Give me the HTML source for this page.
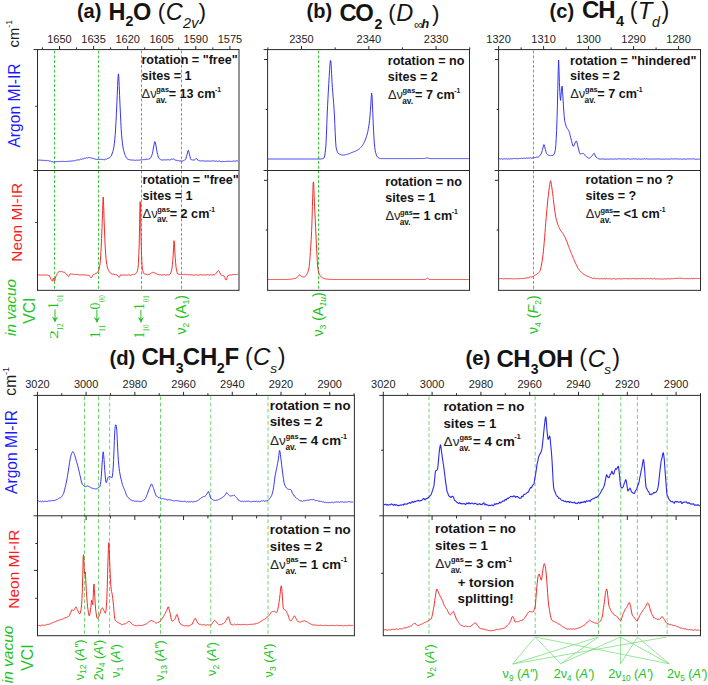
<!DOCTYPE html>
<html><head><meta charset="utf-8"><style>
html,body{margin:0;padding:0;background:#fff;}
svg{display:block;}
text{white-space:pre;}
</style></head><body>
<svg width="708" height="685" viewBox="0 0 708 685">
<rect width="708" height="685" fill="#fff"/>
<line x1="54.5" y1="50.6" x2="54.5" y2="289.35" stroke="#3ccc3c" stroke-width="1.0" stroke-dasharray="2.9 1.9"/>
<line x1="98.5" y1="50.6" x2="98.5" y2="289.35" stroke="#3ccc3c" stroke-width="1.0" stroke-dasharray="2.9 1.9"/>
<line x1="141.5" y1="50.6" x2="141.5" y2="289.35" stroke="#3ccc3c" stroke-width="1.0" stroke-dasharray="2.9 1.9"/>
<line x1="181.5" y1="50.6" x2="181.5" y2="289.35" stroke="#3ccc3c" stroke-width="1.0" stroke-dasharray="2.9 1.9"/>
<line x1="318.5" y1="50.6" x2="318.5" y2="289.35" stroke="#3ccc3c" stroke-width="1.0" stroke-dasharray="2.9 1.9"/>
<line x1="533.5" y1="50.6" x2="533.5" y2="289.35" stroke="#3ccc3c" stroke-width="1.0" stroke-dasharray="2.9 1.9"/>
<line x1="59.5" y1="46.0" x2="59.5" y2="49.6" stroke="#2b2b2b" stroke-width="1.0" />
<line x1="93.58" y1="46.0" x2="93.58" y2="49.6" stroke="#2b2b2b" stroke-width="1.0" />
<line x1="127.66" y1="46.0" x2="127.66" y2="49.6" stroke="#2b2b2b" stroke-width="1.0" />
<line x1="161.74" y1="46.0" x2="161.74" y2="49.6" stroke="#2b2b2b" stroke-width="1.0" />
<line x1="195.82" y1="46.0" x2="195.82" y2="49.6" stroke="#2b2b2b" stroke-width="1.0" />
<line x1="229.89999999999998" y1="46.0" x2="229.89999999999998" y2="49.6" stroke="#2b2b2b" stroke-width="1.0" />
<line x1="42.46" y1="47.4" x2="42.46" y2="49.6" stroke="#2b2b2b" stroke-width="1.0" />
<line x1="76.53999999999999" y1="47.4" x2="76.53999999999999" y2="49.6" stroke="#2b2b2b" stroke-width="1.0" />
<line x1="110.62" y1="47.4" x2="110.62" y2="49.6" stroke="#2b2b2b" stroke-width="1.0" />
<line x1="144.7" y1="47.4" x2="144.7" y2="49.6" stroke="#2b2b2b" stroke-width="1.0" />
<line x1="178.77999999999997" y1="47.4" x2="178.77999999999997" y2="49.6" stroke="#2b2b2b" stroke-width="1.0" />
<line x1="212.85999999999999" y1="47.4" x2="212.85999999999999" y2="49.6" stroke="#2b2b2b" stroke-width="1.0" />
<text x="59.5" y="42.6" font-size="11" font-weight="normal" font-style="normal" text-anchor="middle" fill="#1e1e1e" font-family="'Liberation Sans', sans-serif" >1650</text>
<text x="93.58" y="42.6" font-size="11" font-weight="normal" font-style="normal" text-anchor="middle" fill="#1e1e1e" font-family="'Liberation Sans', sans-serif" >1635</text>
<text x="127.66" y="42.6" font-size="11" font-weight="normal" font-style="normal" text-anchor="middle" fill="#1e1e1e" font-family="'Liberation Sans', sans-serif" >1620</text>
<text x="161.74" y="42.6" font-size="11" font-weight="normal" font-style="normal" text-anchor="middle" fill="#1e1e1e" font-family="'Liberation Sans', sans-serif" >1605</text>
<text x="195.82" y="42.6" font-size="11" font-weight="normal" font-style="normal" text-anchor="middle" fill="#1e1e1e" font-family="'Liberation Sans', sans-serif" >1590</text>
<text x="229.89999999999998" y="42.6" font-size="11" font-weight="normal" font-style="normal" text-anchor="middle" fill="#1e1e1e" font-family="'Liberation Sans', sans-serif" >1575</text>
<line x1="301.5" y1="46.0" x2="301.5" y2="49.6" stroke="#2b2b2b" stroke-width="1.0" />
<line x1="368.8" y1="46.0" x2="368.8" y2="49.6" stroke="#2b2b2b" stroke-width="1.0" />
<line x1="436.1" y1="46.0" x2="436.1" y2="49.6" stroke="#2b2b2b" stroke-width="1.0" />
<line x1="267.85" y1="47.4" x2="267.85" y2="49.6" stroke="#2b2b2b" stroke-width="1.0" />
<line x1="335.15" y1="47.4" x2="335.15" y2="49.6" stroke="#2b2b2b" stroke-width="1.0" />
<line x1="402.45" y1="47.4" x2="402.45" y2="49.6" stroke="#2b2b2b" stroke-width="1.0" />
<line x1="469.75" y1="47.4" x2="469.75" y2="49.6" stroke="#2b2b2b" stroke-width="1.0" />
<text x="301.5" y="42.6" font-size="11" font-weight="normal" font-style="normal" text-anchor="middle" fill="#1e1e1e" font-family="'Liberation Sans', sans-serif" >2350</text>
<text x="368.8" y="42.6" font-size="11" font-weight="normal" font-style="normal" text-anchor="middle" fill="#1e1e1e" font-family="'Liberation Sans', sans-serif" >2340</text>
<text x="436.1" y="42.6" font-size="11" font-weight="normal" font-style="normal" text-anchor="middle" fill="#1e1e1e" font-family="'Liberation Sans', sans-serif" >2330</text>
<line x1="498.6" y1="46.0" x2="498.6" y2="49.6" stroke="#2b2b2b" stroke-width="1.0" />
<line x1="543.6" y1="46.0" x2="543.6" y2="49.6" stroke="#2b2b2b" stroke-width="1.0" />
<line x1="588.6" y1="46.0" x2="588.6" y2="49.6" stroke="#2b2b2b" stroke-width="1.0" />
<line x1="633.6" y1="46.0" x2="633.6" y2="49.6" stroke="#2b2b2b" stroke-width="1.0" />
<line x1="678.6" y1="46.0" x2="678.6" y2="49.6" stroke="#2b2b2b" stroke-width="1.0" />
<line x1="521.1" y1="47.4" x2="521.1" y2="49.6" stroke="#2b2b2b" stroke-width="1.0" />
<line x1="566.1" y1="47.4" x2="566.1" y2="49.6" stroke="#2b2b2b" stroke-width="1.0" />
<line x1="611.1" y1="47.4" x2="611.1" y2="49.6" stroke="#2b2b2b" stroke-width="1.0" />
<line x1="656.1" y1="47.4" x2="656.1" y2="49.6" stroke="#2b2b2b" stroke-width="1.0" />
<text x="498.6" y="42.6" font-size="11" font-weight="normal" font-style="normal" text-anchor="middle" fill="#1e1e1e" font-family="'Liberation Sans', sans-serif" >1320</text>
<text x="543.6" y="42.6" font-size="11" font-weight="normal" font-style="normal" text-anchor="middle" fill="#1e1e1e" font-family="'Liberation Sans', sans-serif" >1310</text>
<text x="588.6" y="42.6" font-size="11" font-weight="normal" font-style="normal" text-anchor="middle" fill="#1e1e1e" font-family="'Liberation Sans', sans-serif" >1300</text>
<text x="633.6" y="42.6" font-size="11" font-weight="normal" font-style="normal" text-anchor="middle" fill="#1e1e1e" font-family="'Liberation Sans', sans-serif" >1290</text>
<text x="678.6" y="42.6" font-size="11" font-weight="normal" font-style="normal" text-anchor="middle" fill="#1e1e1e" font-family="'Liberation Sans', sans-serif" >1280</text>
<line x1="37.5" y1="49.6" x2="239.0" y2="49.6" stroke="#2b2b2b" stroke-width="1.0" />
<line x1="37.5" y1="170.5" x2="239.0" y2="170.5" stroke="#2b2b2b" stroke-width="1.0" />
<line x1="37.5" y1="290.35" x2="239.0" y2="290.35" stroke="#2b2b2b" stroke-width="1.0" />
<line x1="37.5" y1="49.1" x2="37.5" y2="290.85" stroke="#2b2b2b" stroke-width="1.0" />
<line x1="239.0" y1="49.1" x2="239.0" y2="290.85" stroke="#2b2b2b" stroke-width="1.0" />
<line x1="33.5" y1="49.6" x2="37.5" y2="49.6" stroke="#2b2b2b" stroke-width="1.0" />
<line x1="33.5" y1="170.5" x2="37.5" y2="170.5" stroke="#2b2b2b" stroke-width="1.0" />
<line x1="267.6" y1="49.6" x2="469.5" y2="49.6" stroke="#2b2b2b" stroke-width="1.0" />
<line x1="267.6" y1="170.5" x2="469.5" y2="170.5" stroke="#2b2b2b" stroke-width="1.0" />
<line x1="267.6" y1="290.35" x2="469.5" y2="290.35" stroke="#2b2b2b" stroke-width="1.0" />
<line x1="267.6" y1="49.1" x2="267.6" y2="290.85" stroke="#2b2b2b" stroke-width="1.0" />
<line x1="469.5" y1="49.1" x2="469.5" y2="290.85" stroke="#2b2b2b" stroke-width="1.0" />
<line x1="263.6" y1="49.6" x2="267.6" y2="49.6" stroke="#2b2b2b" stroke-width="1.0" />
<line x1="263.6" y1="170.5" x2="267.6" y2="170.5" stroke="#2b2b2b" stroke-width="1.0" />
<line x1="498.6" y1="49.6" x2="700.5" y2="49.6" stroke="#2b2b2b" stroke-width="1.0" />
<line x1="498.6" y1="170.5" x2="700.5" y2="170.5" stroke="#2b2b2b" stroke-width="1.0" />
<line x1="498.6" y1="290.35" x2="700.5" y2="290.35" stroke="#2b2b2b" stroke-width="1.0" />
<line x1="498.6" y1="49.1" x2="498.6" y2="290.85" stroke="#2b2b2b" stroke-width="1.0" />
<line x1="700.5" y1="49.1" x2="700.5" y2="290.85" stroke="#2b2b2b" stroke-width="1.0" />
<line x1="494.6" y1="49.6" x2="498.6" y2="49.6" stroke="#2b2b2b" stroke-width="1.0" />
<line x1="494.6" y1="170.5" x2="498.6" y2="170.5" stroke="#2b2b2b" stroke-width="1.0" />
<line x1="35.3" y1="106.3" x2="37.5" y2="106.3" stroke="#2b2b2b" stroke-width="1.0" />
<line x1="35.3" y1="222.5" x2="37.5" y2="222.5" stroke="#2b2b2b" stroke-width="1.0" />
<line x1="264.0" y1="59.5" x2="267.6" y2="59.5" stroke="#2b2b2b" stroke-width="1.0" />
<line x1="265.6" y1="109.5" x2="267.6" y2="109.5" stroke="#2b2b2b" stroke-width="1.0" />
<line x1="264.0" y1="180.3" x2="267.6" y2="180.3" stroke="#2b2b2b" stroke-width="1.0" />
<line x1="265.6" y1="230.0" x2="267.6" y2="230.0" stroke="#2b2b2b" stroke-width="1.0" />
<line x1="495.0" y1="59.5" x2="498.6" y2="59.5" stroke="#2b2b2b" stroke-width="1.0" />
<line x1="496.6" y1="109.5" x2="498.6" y2="109.5" stroke="#2b2b2b" stroke-width="1.0" />
<line x1="495.0" y1="180.3" x2="498.6" y2="180.3" stroke="#2b2b2b" stroke-width="1.0" />
<line x1="496.6" y1="230.0" x2="498.6" y2="230.0" stroke="#2b2b2b" stroke-width="1.0" />
<line x1="84.5" y1="396.4" x2="84.5" y2="635.7" stroke="#6fd66f" stroke-width="1.0" stroke-dasharray="3.8 2.35"/>
<line x1="98.5" y1="396.4" x2="98.5" y2="635.7" stroke="#6fd66f" stroke-width="1.0" stroke-dasharray="3.8 2.35"/>
<line x1="109.6" y1="396.4" x2="109.6" y2="635.7" stroke="#6fd66f" stroke-width="1.0" stroke-dasharray="3.8 2.35"/>
<line x1="160.5" y1="396.4" x2="160.5" y2="635.7" stroke="#6fd66f" stroke-width="1.0" stroke-dasharray="3.8 2.35"/>
<line x1="210.8" y1="396.4" x2="210.8" y2="635.7" stroke="#6fd66f" stroke-width="1.0" stroke-dasharray="3.8 2.35"/>
<line x1="268.0" y1="396.4" x2="268.0" y2="635.7" stroke="#6fd66f" stroke-width="1.0" stroke-dasharray="3.8 2.35"/>
<line x1="429.0" y1="396.4" x2="429.0" y2="635.7" stroke="#6fd66f" stroke-width="1.0" stroke-dasharray="3.8 2.35"/>
<line x1="535.2" y1="396.4" x2="535.2" y2="635.7" stroke="#6fd66f" stroke-width="1.0" stroke-dasharray="3.8 2.35"/>
<line x1="598.5" y1="396.4" x2="598.5" y2="635.7" stroke="#6fd66f" stroke-width="1.0" stroke-dasharray="3.8 2.35"/>
<line x1="620.8" y1="396.4" x2="620.8" y2="635.7" stroke="#6fd66f" stroke-width="1.0" stroke-dasharray="3.8 2.35"/>
<line x1="637.4" y1="396.4" x2="637.4" y2="635.7" stroke="#6fd66f" stroke-width="1.0" stroke-dasharray="3.8 2.35"/>
<line x1="667.1" y1="396.4" x2="667.1" y2="635.7" stroke="#6fd66f" stroke-width="1.0" stroke-dasharray="3.8 2.35"/>
<line x1="37.4" y1="391.79999999999995" x2="37.4" y2="395.4" stroke="#2b2b2b" stroke-width="1.0" />
<line x1="86.12" y1="391.79999999999995" x2="86.12" y2="395.4" stroke="#2b2b2b" stroke-width="1.0" />
<line x1="134.84" y1="391.79999999999995" x2="134.84" y2="395.4" stroke="#2b2b2b" stroke-width="1.0" />
<line x1="183.56" y1="391.79999999999995" x2="183.56" y2="395.4" stroke="#2b2b2b" stroke-width="1.0" />
<line x1="232.28" y1="391.79999999999995" x2="232.28" y2="395.4" stroke="#2b2b2b" stroke-width="1.0" />
<line x1="281.0" y1="391.79999999999995" x2="281.0" y2="395.4" stroke="#2b2b2b" stroke-width="1.0" />
<line x1="329.71999999999997" y1="391.79999999999995" x2="329.71999999999997" y2="395.4" stroke="#2b2b2b" stroke-width="1.0" />
<line x1="61.76" y1="393.2" x2="61.76" y2="395.4" stroke="#2b2b2b" stroke-width="1.0" />
<line x1="110.47999999999999" y1="393.2" x2="110.47999999999999" y2="395.4" stroke="#2b2b2b" stroke-width="1.0" />
<line x1="159.2" y1="393.2" x2="159.2" y2="395.4" stroke="#2b2b2b" stroke-width="1.0" />
<line x1="207.92" y1="393.2" x2="207.92" y2="395.4" stroke="#2b2b2b" stroke-width="1.0" />
<line x1="256.64" y1="393.2" x2="256.64" y2="395.4" stroke="#2b2b2b" stroke-width="1.0" />
<line x1="305.35999999999996" y1="393.2" x2="305.35999999999996" y2="395.4" stroke="#2b2b2b" stroke-width="1.0" />
<line x1="354.08" y1="393.2" x2="354.08" y2="395.4" stroke="#2b2b2b" stroke-width="1.0" />
<line x1="86.12" y1="515.8" x2="86.12" y2="520.0" stroke="#2b2b2b" stroke-width="1.0" />
<line x1="134.84" y1="515.8" x2="134.84" y2="520.0" stroke="#2b2b2b" stroke-width="1.0" />
<line x1="183.56" y1="515.8" x2="183.56" y2="520.0" stroke="#2b2b2b" stroke-width="1.0" />
<line x1="232.28" y1="515.8" x2="232.28" y2="520.0" stroke="#2b2b2b" stroke-width="1.0" />
<line x1="281.0" y1="515.8" x2="281.0" y2="520.0" stroke="#2b2b2b" stroke-width="1.0" />
<line x1="329.71999999999997" y1="515.8" x2="329.71999999999997" y2="520.0" stroke="#2b2b2b" stroke-width="1.0" />
<line x1="61.76" y1="515.8" x2="61.76" y2="518.4" stroke="#2b2b2b" stroke-width="1.0" />
<line x1="110.47999999999999" y1="515.8" x2="110.47999999999999" y2="518.4" stroke="#2b2b2b" stroke-width="1.0" />
<line x1="159.2" y1="515.8" x2="159.2" y2="518.4" stroke="#2b2b2b" stroke-width="1.0" />
<line x1="207.92" y1="515.8" x2="207.92" y2="518.4" stroke="#2b2b2b" stroke-width="1.0" />
<line x1="256.64" y1="515.8" x2="256.64" y2="518.4" stroke="#2b2b2b" stroke-width="1.0" />
<line x1="305.35999999999996" y1="515.8" x2="305.35999999999996" y2="518.4" stroke="#2b2b2b" stroke-width="1.0" />
<text x="37.4" y="387.7" font-size="11" font-weight="normal" font-style="normal" text-anchor="middle" fill="#1e1e1e" font-family="'Liberation Sans', sans-serif" >3020</text>
<text x="86.12" y="387.7" font-size="11" font-weight="normal" font-style="normal" text-anchor="middle" fill="#1e1e1e" font-family="'Liberation Sans', sans-serif" >3000</text>
<text x="134.84" y="387.7" font-size="11" font-weight="normal" font-style="normal" text-anchor="middle" fill="#1e1e1e" font-family="'Liberation Sans', sans-serif" >2980</text>
<text x="183.56" y="387.7" font-size="11" font-weight="normal" font-style="normal" text-anchor="middle" fill="#1e1e1e" font-family="'Liberation Sans', sans-serif" >2960</text>
<text x="232.28" y="387.7" font-size="11" font-weight="normal" font-style="normal" text-anchor="middle" fill="#1e1e1e" font-family="'Liberation Sans', sans-serif" >2940</text>
<text x="281.0" y="387.7" font-size="11" font-weight="normal" font-style="normal" text-anchor="middle" fill="#1e1e1e" font-family="'Liberation Sans', sans-serif" >2920</text>
<text x="329.71999999999997" y="387.7" font-size="11" font-weight="normal" font-style="normal" text-anchor="middle" fill="#1e1e1e" font-family="'Liberation Sans', sans-serif" >2900</text>
<line x1="383.3" y1="391.79999999999995" x2="383.3" y2="395.4" stroke="#2b2b2b" stroke-width="1.0" />
<line x1="432.1" y1="391.79999999999995" x2="432.1" y2="395.4" stroke="#2b2b2b" stroke-width="1.0" />
<line x1="480.9" y1="391.79999999999995" x2="480.9" y2="395.4" stroke="#2b2b2b" stroke-width="1.0" />
<line x1="529.7" y1="391.79999999999995" x2="529.7" y2="395.4" stroke="#2b2b2b" stroke-width="1.0" />
<line x1="578.5" y1="391.79999999999995" x2="578.5" y2="395.4" stroke="#2b2b2b" stroke-width="1.0" />
<line x1="627.3" y1="391.79999999999995" x2="627.3" y2="395.4" stroke="#2b2b2b" stroke-width="1.0" />
<line x1="676.1" y1="391.79999999999995" x2="676.1" y2="395.4" stroke="#2b2b2b" stroke-width="1.0" />
<line x1="407.7" y1="393.2" x2="407.7" y2="395.4" stroke="#2b2b2b" stroke-width="1.0" />
<line x1="456.5" y1="393.2" x2="456.5" y2="395.4" stroke="#2b2b2b" stroke-width="1.0" />
<line x1="505.3" y1="393.2" x2="505.3" y2="395.4" stroke="#2b2b2b" stroke-width="1.0" />
<line x1="554.1" y1="393.2" x2="554.1" y2="395.4" stroke="#2b2b2b" stroke-width="1.0" />
<line x1="602.9" y1="393.2" x2="602.9" y2="395.4" stroke="#2b2b2b" stroke-width="1.0" />
<line x1="651.7" y1="393.2" x2="651.7" y2="395.4" stroke="#2b2b2b" stroke-width="1.0" />
<line x1="700.5" y1="393.2" x2="700.5" y2="395.4" stroke="#2b2b2b" stroke-width="1.0" />
<line x1="432.1" y1="515.8" x2="432.1" y2="520.0" stroke="#2b2b2b" stroke-width="1.0" />
<line x1="480.9" y1="515.8" x2="480.9" y2="520.0" stroke="#2b2b2b" stroke-width="1.0" />
<line x1="529.7" y1="515.8" x2="529.7" y2="520.0" stroke="#2b2b2b" stroke-width="1.0" />
<line x1="578.5" y1="515.8" x2="578.5" y2="520.0" stroke="#2b2b2b" stroke-width="1.0" />
<line x1="627.3" y1="515.8" x2="627.3" y2="520.0" stroke="#2b2b2b" stroke-width="1.0" />
<line x1="676.1" y1="515.8" x2="676.1" y2="520.0" stroke="#2b2b2b" stroke-width="1.0" />
<line x1="407.7" y1="515.8" x2="407.7" y2="518.4" stroke="#2b2b2b" stroke-width="1.0" />
<line x1="456.5" y1="515.8" x2="456.5" y2="518.4" stroke="#2b2b2b" stroke-width="1.0" />
<line x1="505.3" y1="515.8" x2="505.3" y2="518.4" stroke="#2b2b2b" stroke-width="1.0" />
<line x1="554.1" y1="515.8" x2="554.1" y2="518.4" stroke="#2b2b2b" stroke-width="1.0" />
<line x1="602.9" y1="515.8" x2="602.9" y2="518.4" stroke="#2b2b2b" stroke-width="1.0" />
<line x1="651.7" y1="515.8" x2="651.7" y2="518.4" stroke="#2b2b2b" stroke-width="1.0" />
<text x="383.3" y="387.7" font-size="11" font-weight="normal" font-style="normal" text-anchor="middle" fill="#1e1e1e" font-family="'Liberation Sans', sans-serif" >3020</text>
<text x="432.1" y="387.7" font-size="11" font-weight="normal" font-style="normal" text-anchor="middle" fill="#1e1e1e" font-family="'Liberation Sans', sans-serif" >3000</text>
<text x="480.9" y="387.7" font-size="11" font-weight="normal" font-style="normal" text-anchor="middle" fill="#1e1e1e" font-family="'Liberation Sans', sans-serif" >2980</text>
<text x="529.7" y="387.7" font-size="11" font-weight="normal" font-style="normal" text-anchor="middle" fill="#1e1e1e" font-family="'Liberation Sans', sans-serif" >2960</text>
<text x="578.5" y="387.7" font-size="11" font-weight="normal" font-style="normal" text-anchor="middle" fill="#1e1e1e" font-family="'Liberation Sans', sans-serif" >2940</text>
<text x="627.3" y="387.7" font-size="11" font-weight="normal" font-style="normal" text-anchor="middle" fill="#1e1e1e" font-family="'Liberation Sans', sans-serif" >2920</text>
<text x="676.1" y="387.7" font-size="11" font-weight="normal" font-style="normal" text-anchor="middle" fill="#1e1e1e" font-family="'Liberation Sans', sans-serif" >2900</text>
<line x1="37.5" y1="395.4" x2="354.4" y2="395.4" stroke="#2b2b2b" stroke-width="1.0" />
<line x1="37.5" y1="515.8" x2="354.4" y2="515.8" stroke="#2b2b2b" stroke-width="1.0" />
<line x1="37.5" y1="635.7" x2="354.4" y2="635.7" stroke="#2b2b2b" stroke-width="1.0" />
<line x1="37.5" y1="394.9" x2="37.5" y2="636.2" stroke="#2b2b2b" stroke-width="1.0" />
<line x1="354.4" y1="394.9" x2="354.4" y2="636.2" stroke="#2b2b2b" stroke-width="1.0" />
<line x1="33.5" y1="395.4" x2="37.5" y2="395.4" stroke="#2b2b2b" stroke-width="1.0" />
<line x1="33.5" y1="515.8" x2="37.5" y2="515.8" stroke="#2b2b2b" stroke-width="1.0" />
<line x1="383.3" y1="395.4" x2="700.5" y2="395.4" stroke="#2b2b2b" stroke-width="1.0" />
<line x1="383.3" y1="515.8" x2="700.5" y2="515.8" stroke="#2b2b2b" stroke-width="1.0" />
<line x1="383.3" y1="635.7" x2="700.5" y2="635.7" stroke="#2b2b2b" stroke-width="1.0" />
<line x1="383.3" y1="394.9" x2="383.3" y2="636.2" stroke="#2b2b2b" stroke-width="1.0" />
<line x1="700.5" y1="394.9" x2="700.5" y2="636.2" stroke="#2b2b2b" stroke-width="1.0" />
<line x1="379.3" y1="395.4" x2="383.3" y2="395.4" stroke="#2b2b2b" stroke-width="1.0" />
<line x1="379.3" y1="515.8" x2="383.3" y2="515.8" stroke="#2b2b2b" stroke-width="1.0" />
<line x1="35.3" y1="449.5" x2="37.5" y2="449.5" stroke="#2b2b2b" stroke-width="1.0" />
<line x1="35.3" y1="543.5" x2="37.5" y2="543.5" stroke="#2b2b2b" stroke-width="1.0" />
<line x1="33.9" y1="570.4" x2="37.5" y2="570.4" stroke="#2b2b2b" stroke-width="1.0" />
<line x1="35.3" y1="598.3" x2="37.5" y2="598.3" stroke="#2b2b2b" stroke-width="1.0" />
<line x1="381.1" y1="450.2" x2="383.3" y2="450.2" stroke="#2b2b2b" stroke-width="1.0" />
<line x1="381.1" y1="573.3" x2="383.3" y2="573.3" stroke="#2b2b2b" stroke-width="1.0" />
<path d="M38.00,160.09 L38.40,160.17 L38.80,160.06 L39.20,159.98 L39.60,160.15 L40.00,160.20 L40.40,160.14 L40.80,160.24 L41.20,160.30 L41.60,160.29 L42.00,160.32 L42.40,160.32 L42.80,160.25 L43.20,160.26 L43.60,160.35 L44.00,160.46 L44.40,160.47 L44.80,160.40 L45.20,160.38 L45.60,160.47 L46.00,160.55 L46.40,160.66 L46.80,160.85 L47.20,160.72 L47.60,160.32 L48.00,160.34 L48.40,160.63 L48.80,160.79 L49.20,160.90 L49.60,161.12 L50.00,161.21 L50.40,161.05 L50.80,161.21 L51.20,161.61 L51.60,161.74 L52.00,161.73 L52.40,161.66 L52.80,161.67 L53.20,161.90 L53.60,161.95 L54.00,161.80 L54.40,161.79 L54.80,161.80 L55.20,161.72 L55.60,161.72 L56.00,161.72 L56.40,161.63 L56.80,161.57 L57.20,161.64 L57.60,161.68 L58.00,161.54 L58.40,161.46 L58.80,161.51 L59.20,161.54 L59.60,161.51 L60.00,161.48 L60.40,161.55 L60.80,161.48 L61.20,161.32 L61.60,161.39 L62.00,161.50 L62.40,161.48 L62.80,161.33 L63.20,161.31 L63.60,161.43 L64.00,161.47 L64.40,161.55 L64.80,161.51 L65.20,161.36 L65.60,161.50 L66.00,161.64 L66.40,161.46 L66.80,161.38 L67.20,161.49 L67.60,161.54 L68.00,161.48 L68.40,161.27 L68.80,161.10 L69.20,161.15 L69.60,161.23 L70.00,161.28 L70.40,161.13 L70.80,160.86 L71.20,160.89 L71.60,161.12 L72.00,161.10 L72.40,160.92 L72.80,160.89 L73.20,160.93 L73.60,160.93 L74.00,160.88 L74.40,160.73 L74.80,160.56 L75.20,160.53 L75.60,160.39 L76.00,160.11 L76.40,160.10 L76.80,160.07 L77.20,159.93 L77.60,159.91 L78.00,159.90 L78.40,159.88 L78.80,159.82 L79.20,159.81 L79.60,159.80 L80.00,159.57 L80.40,159.24 L80.80,159.20 L81.20,159.37 L81.60,159.21 L82.00,158.98 L82.40,158.92 L82.80,158.90 L83.20,158.86 L83.60,158.72 L84.00,158.52 L84.40,158.40 L84.80,158.31 L85.20,158.21 L85.60,158.30 L86.00,158.24 L86.40,157.77 L86.80,157.59 L87.20,157.97 L87.60,158.12 L88.00,157.74 L88.40,157.56 L88.80,157.66 L89.20,157.60 L89.60,157.56 L90.00,157.69 L90.40,157.82 L90.80,157.89 L91.20,157.99 L91.60,158.06 L92.00,158.10 L92.40,158.20 L92.80,158.32 L93.20,158.41 L93.60,158.43 L94.00,158.61 L94.40,158.94 L94.80,159.01 L95.20,159.05 L95.60,159.16 L96.00,159.18 L96.40,159.27 L96.80,159.42 L97.20,159.42 L97.60,159.39 L98.00,159.49 L98.40,159.41 L98.80,159.27 L99.20,159.30 L99.60,159.50 L100.00,159.61 L100.40,159.46 L100.80,159.31 L101.20,159.24 L101.60,159.42 L102.00,159.60 L102.40,159.49 L102.80,159.42 L103.20,159.53 L103.60,159.64 L104.00,159.75 L104.40,159.79 L104.80,159.56 L105.20,159.31 L105.60,159.24 L106.00,159.19 L106.40,159.09 L106.80,158.96 L107.20,158.72 L107.60,158.51 L108.00,158.46 L108.40,158.23 L108.80,157.95 L109.20,157.91 L109.60,157.74 L110.00,157.29 L110.40,156.71 L110.80,156.33 L111.20,156.08 L111.60,155.24 L112.00,154.01 L112.40,152.93 L112.80,151.70 L113.20,150.21 L113.60,148.49 L114.00,146.14 L114.40,143.16 L114.80,139.28 L115.20,134.72 L115.60,128.96 L116.00,121.46 L116.40,113.21 L116.80,105.12 L117.20,95.79 L117.60,85.48 L118.00,77.36 L118.40,73.90 L118.80,77.08 L119.20,85.40 L119.60,95.72 L120.00,104.88 L120.40,113.12 L120.80,121.68 L121.20,129.20 L121.60,134.93 L122.00,139.24 L122.40,142.86 L122.80,145.94 L123.20,148.45 L123.60,150.29 L124.00,151.76 L124.40,153.13 L124.80,154.35 L125.20,155.36 L125.60,156.23 L126.00,157.01 L126.40,157.74 L126.80,158.32 L127.20,158.80 L127.60,159.16 L128.00,159.31 L128.40,159.44 L128.80,159.60 L129.20,159.61 L129.60,159.70 L130.00,159.93 L130.40,160.02 L130.80,159.88 L131.20,159.83 L131.60,160.07 L132.00,160.14 L132.40,160.09 L132.80,160.19 L133.20,160.14 L133.60,160.09 L134.00,160.22 L134.40,160.29 L134.80,160.21 L135.20,160.22 L135.60,160.38 L136.00,160.23 L136.40,160.08 L136.80,160.22 L137.20,160.26 L137.60,160.22 L138.00,160.17 L138.40,160.16 L138.80,160.13 L139.20,160.09 L139.60,160.11 L140.00,160.00 L140.40,159.91 L140.80,160.00 L141.20,160.03 L141.60,159.90 L142.00,159.84 L142.40,159.81 L142.80,159.62 L143.20,159.59 L143.60,159.64 L144.00,159.58 L144.40,159.62 L144.80,159.71 L145.20,159.66 L145.60,159.46 L146.00,159.39 L146.40,159.29 L146.80,159.29 L147.20,159.51 L147.60,159.31 L148.00,159.08 L148.40,159.13 L148.80,158.90 L149.20,158.64 L149.60,158.70 L150.00,158.62 L150.40,158.16 L150.80,157.59 L151.20,156.84 L151.60,155.87 L152.00,154.88 L152.40,153.68 L152.80,151.63 L153.20,149.17 L153.60,146.85 L154.00,144.91 L154.40,142.89 L154.80,141.60 L155.20,142.08 L155.60,143.95 L156.00,145.99 L156.40,148.07 L156.80,150.59 L157.20,152.90 L157.60,154.42 L158.00,155.83 L158.40,157.22 L158.80,158.14 L159.20,158.54 L159.60,158.87 L160.00,159.22 L160.40,159.53 L160.80,159.66 L161.20,159.80 L161.60,159.94 L162.00,160.02 L162.40,160.09 L162.80,159.96 L163.20,159.84 L163.60,159.90 L164.00,159.87 L164.40,159.81 L164.80,159.79 L165.20,159.86 L165.60,160.04 L166.00,160.00 L166.40,159.81 L166.80,159.76 L167.20,159.81 L167.60,159.80 L168.00,159.70 L168.40,159.69 L168.80,159.75 L169.20,159.83 L169.60,159.98 L170.00,160.00 L170.40,159.84 L170.80,159.60 L171.20,159.38 L171.60,159.31 L172.00,159.24 L172.40,159.22 L172.80,159.09 L173.20,158.88 L173.60,159.04 L174.00,159.38 L174.40,159.65 L174.80,159.78 L175.20,159.92 L175.60,160.18 L176.00,160.33 L176.40,160.32 L176.80,160.28 L177.20,160.42 L177.60,160.64 L178.00,160.58 L178.40,160.54 L178.80,160.78 L179.20,160.97 L179.60,160.97 L180.00,160.97 L180.40,160.95 L180.80,160.92 L181.20,160.96 L181.60,161.01 L182.00,161.12 L182.40,161.10 L182.80,160.87 L183.20,160.73 L183.60,160.70 L184.00,160.61 L184.40,160.26 L184.80,159.82 L185.20,159.61 L185.60,159.33 L186.00,158.30 L186.40,156.68 L186.80,155.28 L187.20,154.05 L187.60,152.18 L188.00,150.50 L188.40,150.31 L188.80,151.53 L189.20,153.22 L189.60,154.79 L190.00,156.64 L190.40,158.36 L190.80,159.44 L191.20,159.63 L191.60,159.62 L192.00,159.70 L192.40,159.91 L192.80,160.10 L193.20,160.06 L193.60,159.98 L194.00,160.09 L194.40,160.04 L194.80,159.68 L195.20,159.29 L195.60,158.85 L196.00,158.49 L196.40,158.46 L196.80,158.59 L197.20,159.22 L197.60,160.02 L198.00,160.34 L198.40,160.38 L198.80,160.66 L199.20,160.80 L199.60,160.69 L200.00,160.80 L200.40,160.99 L200.80,161.03 L201.20,160.99 L201.60,160.71 L202.00,160.63 L202.40,160.83 L202.80,160.84 L203.20,160.79 L203.60,160.88 L204.00,161.11 L204.40,161.13 L204.80,161.02 L205.20,161.08 L205.60,161.06 L206.00,160.99 L206.40,160.99 L206.80,161.02 L207.20,161.08 L207.60,161.06 L208.00,161.04 L208.40,161.07 L208.80,161.00 L209.20,161.02 L209.60,161.16 L210.00,161.18 L210.40,161.14 L210.80,161.20 L211.20,161.12 L211.60,160.94 L212.00,160.94 L212.40,161.03 L212.80,160.97 L213.20,160.79 L213.60,160.76 L214.00,160.82 L214.40,160.95 L214.80,161.18 L215.20,161.29 L215.60,161.22 L216.00,161.09 L216.40,161.00 L216.80,161.08 L217.20,161.31 L217.60,161.46 L218.00,161.34 L218.40,161.16 L218.80,161.12 L219.20,161.08 L219.60,161.08 L220.00,161.19 L220.40,161.41 L220.80,161.55 L221.20,161.54 L221.60,161.65 L222.00,161.70 L222.40,161.64 L222.80,161.69 L223.20,161.62 L223.60,161.48 L224.00,161.49 L224.40,161.50 L224.80,161.46 L225.20,161.47 L225.60,161.52 L226.00,161.48 L226.40,161.37 L226.80,161.27 L227.20,161.22 L227.60,161.34 L228.00,161.44 L228.40,161.38 L228.80,161.35 L229.20,161.29 L229.60,161.16 L230.00,161.16 L230.40,161.30 L230.80,161.35 L231.20,161.43 L231.60,161.48 L232.00,161.34 L232.40,161.31 L232.80,161.32 L233.20,161.10 L233.60,160.89 L234.00,160.88 L234.40,161.07 L234.80,161.21 L235.20,161.15 L235.60,161.04 L236.00,161.02 L236.40,160.93 L236.80,160.79 L237.20,160.90 L237.60,160.93 L238.00,160.83" fill="none" stroke="#2a2af0" stroke-width="0.95" stroke-linejoin="round"/>
<path d="M38.00,274.99 L38.40,274.92 L38.80,274.76 L39.20,274.78 L39.60,275.14 L40.00,275.24 L40.40,275.08 L40.80,275.09 L41.20,275.05 L41.60,275.01 L42.00,275.07 L42.40,275.00 L42.80,274.89 L43.20,274.91 L43.60,275.00 L44.00,275.05 L44.40,275.02 L44.80,274.97 L45.20,274.92 L45.60,274.96 L46.00,275.09 L46.40,275.16 L46.80,275.18 L47.20,275.16 L47.60,275.15 L48.00,275.44 L48.40,275.56 L48.80,275.27 L49.20,275.20 L49.60,275.89 L50.00,276.94 L50.40,277.95 L50.80,278.84 L51.20,279.51 L51.60,280.18 L52.00,280.77 L52.40,281.05 L52.80,280.13 L53.20,278.43 L53.60,277.98 L54.00,279.62 L54.40,281.11 L54.80,280.52 L55.20,278.87 L55.60,277.22 L56.00,276.07 L56.40,275.34 L56.80,274.51 L57.20,273.68 L57.60,273.20 L58.00,272.64 L58.40,271.93 L58.80,271.65 L59.20,271.53 L59.60,271.37 L60.00,271.48 L60.40,271.62 L60.80,271.48 L61.20,271.34 L61.60,271.45 L62.00,271.68 L62.40,271.80 L62.80,271.89 L63.20,272.08 L63.60,272.22 L64.00,272.19 L64.40,272.15 L64.80,272.43 L65.20,272.98 L65.60,273.41 L66.00,273.69 L66.40,273.95 L66.80,274.43 L67.20,275.15 L67.60,275.70 L68.00,276.03 L68.40,276.41 L68.80,276.43 L69.20,275.56 L69.60,274.50 L70.00,273.95 L70.40,273.96 L70.80,274.09 L71.20,274.05 L71.60,273.99 L72.00,274.02 L72.40,274.08 L72.80,274.28 L73.20,274.40 L73.60,274.41 L74.00,274.49 L74.40,274.46 L74.80,274.41 L75.20,274.40 L75.60,274.46 L76.00,274.53 L76.40,274.49 L76.80,274.45 L77.20,274.45 L77.60,274.40 L78.00,274.40 L78.40,274.57 L78.80,274.79 L79.20,274.89 L79.60,275.02 L80.00,275.11 L80.40,274.92 L80.80,274.85 L81.20,274.93 L81.60,274.85 L82.00,274.82 L82.40,274.81 L82.80,274.72 L83.20,274.72 L83.60,274.89 L84.00,274.91 L84.40,274.93 L84.80,275.18 L85.20,275.22 L85.60,275.05 L86.00,274.98 L86.40,275.05 L86.80,275.17 L87.20,275.32 L87.60,275.35 L88.00,275.23 L88.40,275.23 L88.80,275.27 L89.20,275.35 L89.60,275.78 L90.00,276.46 L90.40,277.17 L90.80,277.61 L91.20,277.70 L91.60,277.50 L92.00,276.95 L92.40,276.20 L92.80,275.38 L93.20,274.85 L93.60,274.47 L94.00,274.26 L94.40,274.19 L94.80,274.08 L95.20,273.85 L95.60,273.61 L96.00,273.43 L96.40,273.27 L96.80,273.09 L97.20,272.77 L97.60,272.27 L98.00,271.68 L98.40,271.08 L98.80,270.17 L99.20,268.64 L99.60,266.59 L100.00,263.98 L100.40,259.99 L100.80,254.11 L101.20,246.98 L101.60,238.39 L102.00,227.70 L102.40,217.03 L102.80,204.01 L103.20,196.97 L103.60,204.17 L104.00,217.23 L104.40,228.02 L104.80,238.77 L105.20,246.88 L105.60,253.15 L106.00,258.32 L106.40,262.00 L106.80,264.40 L107.20,266.40 L107.60,268.19 L108.00,269.38 L108.40,270.11 L108.80,270.80 L109.20,271.50 L109.60,272.22 L110.00,272.68 L110.40,272.84 L110.80,273.15 L111.20,273.55 L111.60,273.90 L112.00,274.22 L112.40,274.29 L112.80,274.27 L113.20,274.23 L113.60,274.17 L114.00,274.39 L114.40,274.59 L114.80,274.51 L115.20,274.51 L115.60,274.78 L116.00,275.00 L116.40,274.89 L116.80,274.89 L117.20,275.12 L117.60,275.47 L118.00,276.10 L118.40,276.79 L118.80,277.17 L119.20,277.17 L119.60,276.86 L120.00,276.11 L120.40,275.15 L120.80,274.69 L121.20,274.92 L121.60,275.15 L122.00,275.10 L122.40,275.00 L122.80,275.02 L123.20,275.10 L123.60,275.11 L124.00,275.00 L124.40,274.97 L124.80,275.17 L125.20,275.16 L125.60,275.07 L126.00,275.25 L126.40,275.20 L126.80,274.87 L127.20,274.77 L127.60,275.00 L128.00,275.07 L128.40,274.85 L128.80,274.81 L129.20,274.99 L129.60,274.97 L130.00,275.08 L130.40,275.45 L130.80,275.48 L131.20,275.17 L131.60,274.95 L132.00,274.77 L132.40,274.56 L132.80,274.56 L133.20,274.49 L133.60,274.28 L134.00,274.25 L134.40,274.37 L134.80,274.30 L135.20,274.13 L135.60,273.86 L136.00,273.35 L136.40,272.79 L136.80,272.23 L137.20,271.45 L137.60,270.11 L138.00,268.07 L138.40,263.45 L138.80,255.22 L139.20,244.82 L139.60,224.17 L140.00,201.65 L140.40,201.89 L140.80,224.32 L141.20,244.91 L141.60,255.90 L142.00,264.38 L142.40,268.47 L142.80,270.69 L143.20,272.31 L143.60,273.36 L144.00,273.82 L144.40,273.90 L144.80,273.90 L145.20,273.93 L145.60,274.07 L146.00,274.22 L146.40,274.35 L146.80,274.55 L147.20,274.73 L147.60,274.68 L148.00,274.56 L148.40,274.50 L148.80,274.44 L149.20,274.44 L149.60,274.18 L150.00,273.83 L150.40,273.77 L150.80,273.48 L151.20,272.96 L151.60,272.79 L152.00,272.67 L152.40,272.40 L152.80,272.30 L153.20,272.38 L153.60,272.52 L154.00,272.78 L154.40,272.98 L154.80,273.02 L155.20,273.18 L155.60,273.40 L156.00,273.52 L156.40,273.57 L156.80,273.69 L157.20,274.09 L157.60,274.56 L158.00,274.78 L158.40,274.76 L158.80,274.65 L159.20,274.67 L159.60,274.91 L160.00,274.96 L160.40,274.79 L160.80,274.71 L161.20,274.81 L161.60,275.02 L162.00,275.04 L162.40,274.96 L162.80,275.02 L163.20,275.02 L163.60,274.88 L164.00,274.73 L164.40,274.65 L164.80,274.73 L165.20,275.09 L165.60,275.19 L166.00,274.92 L166.40,274.90 L166.80,274.94 L167.20,274.83 L167.60,274.78 L168.00,274.79 L168.40,274.83 L168.80,274.73 L169.20,274.68 L169.60,274.65 L170.00,274.38 L170.40,273.82 L170.80,273.02 L171.20,271.81 L171.60,270.05 L172.00,267.96 L172.40,264.76 L172.80,260.25 L173.20,255.10 L173.60,247.32 L174.00,240.71 L174.40,243.11 L174.80,251.27 L175.20,257.46 L175.60,262.73 L176.00,266.80 L176.40,269.19 L176.80,271.16 L177.20,272.80 L177.60,273.79 L178.00,274.05 L178.40,274.16 L178.80,274.22 L179.20,274.21 L179.60,274.44 L180.00,274.61 L180.40,274.54 L180.80,274.44 L181.20,274.38 L181.60,274.33 L182.00,274.37 L182.40,274.43 L182.80,274.46 L183.20,274.49 L183.60,274.62 L184.00,274.64 L184.40,274.54 L184.80,274.50 L185.20,274.28 L185.60,274.22 L186.00,274.49 L186.40,274.68 L186.80,274.63 L187.20,274.51 L187.60,274.61 L188.00,274.82 L188.40,274.90 L188.80,274.85 L189.20,274.77 L189.60,274.69 L190.00,274.69 L190.40,274.79 L190.80,274.83 L191.20,274.71 L191.60,274.72 L192.00,275.00 L192.40,275.16 L192.80,275.07 L193.20,274.94 L193.60,274.96 L194.00,275.07 L194.40,275.18 L194.80,275.21 L195.20,275.04 L195.60,274.82 L196.00,274.77 L196.40,274.73 L196.80,274.84 L197.20,275.11 L197.60,275.09 L198.00,275.00 L198.40,275.15 L198.80,275.08 L199.20,274.92 L199.60,274.98 L200.00,274.97 L200.40,274.78 L200.80,274.71 L201.20,274.90 L201.60,274.87 L202.00,274.73 L202.40,274.94 L202.80,275.07 L203.20,274.97 L203.60,274.95 L204.00,274.90 L204.40,274.83 L204.80,274.96 L205.20,275.02 L205.60,274.88 L206.00,274.90 L206.40,274.94 L206.80,274.83 L207.20,274.74 L207.60,274.66 L208.00,274.72 L208.40,274.87 L208.80,274.87 L209.20,274.97 L209.60,275.15 L210.00,274.98 L210.40,274.80 L210.80,274.77 L211.20,274.82 L211.60,274.89 L212.00,274.87 L212.40,274.96 L212.80,274.89 L213.20,274.71 L213.60,274.71 L214.00,274.82 L214.40,274.92 L214.80,274.68 L215.20,274.29 L215.60,273.89 L216.00,273.48 L216.40,272.98 L216.80,272.30 L217.20,271.64 L217.60,271.15 L218.00,270.93 L218.40,270.77 L218.80,270.70 L219.20,271.21 L219.60,272.06 L220.00,272.95 L220.40,273.87 L220.80,274.68 L221.20,275.13 L221.60,275.25 L222.00,275.34 L222.40,275.53 L222.80,275.61 L223.20,275.67 L223.60,275.78 L224.00,275.96 L224.40,276.63 L224.80,277.65 L225.20,278.61 L225.60,279.54 L226.00,280.12 L226.40,279.85 L226.80,278.82 L227.20,277.33 L227.60,276.08 L228.00,275.51 L228.40,275.44 L228.80,275.35 L229.20,275.14 L229.60,275.05 L230.00,275.05 L230.40,275.01 L230.80,275.04 L231.20,275.05 L231.60,274.97 L232.00,274.80 L232.40,274.61 L232.80,274.46 L233.20,274.45 L233.60,274.56 L234.00,274.64 L234.40,274.52 L234.80,274.46 L235.20,274.55 L235.60,274.49 L236.00,274.44 L236.40,274.55 L236.80,274.49 L237.20,274.26 L237.60,274.32 L238.00,274.55" fill="none" stroke="#f52020" stroke-width="0.95" stroke-linejoin="round"/>
<path d="M268.00,159.00 L268.40,159.00 L268.80,159.00 L269.20,159.00 L269.60,159.00 L270.00,159.00 L270.40,159.00 L270.80,159.00 L271.20,159.00 L271.60,159.00 L272.00,159.00 L272.40,159.00 L272.80,159.00 L273.20,159.00 L273.60,159.00 L274.00,159.00 L274.40,159.00 L274.80,159.00 L275.20,159.00 L275.60,159.00 L276.00,159.00 L276.40,159.00 L276.80,159.00 L277.20,159.00 L277.60,159.00 L278.00,159.00 L278.40,159.00 L278.80,159.00 L279.20,159.00 L279.60,159.00 L280.00,159.00 L280.40,159.00 L280.80,159.00 L281.20,159.00 L281.60,159.00 L282.00,159.00 L282.40,159.00 L282.80,159.00 L283.20,159.00 L283.60,159.00 L284.00,159.00 L284.40,159.00 L284.80,159.00 L285.20,159.00 L285.60,159.00 L286.00,159.00 L286.40,159.00 L286.80,159.00 L287.20,159.00 L287.60,159.00 L288.00,159.00 L288.40,159.00 L288.80,159.00 L289.20,159.00 L289.60,159.00 L290.00,159.00 L290.40,159.00 L290.80,159.00 L291.20,159.00 L291.60,159.00 L292.00,159.00 L292.40,159.00 L292.80,159.00 L293.20,159.00 L293.60,159.00 L294.00,159.00 L294.40,159.00 L294.80,159.00 L295.20,159.00 L295.60,159.00 L296.00,159.00 L296.40,159.00 L296.80,159.00 L297.20,159.00 L297.60,159.00 L298.00,159.00 L298.40,159.00 L298.80,159.00 L299.20,159.00 L299.60,159.00 L300.00,159.00 L300.40,159.00 L300.80,159.00 L301.20,159.00 L301.60,159.00 L302.00,159.00 L302.40,159.00 L302.80,159.00 L303.20,159.00 L303.60,159.00 L304.00,159.00 L304.40,159.00 L304.80,159.00 L305.20,159.00 L305.60,159.00 L306.00,159.00 L306.40,159.00 L306.80,159.00 L307.20,159.00 L307.60,159.00 L308.00,159.00 L308.40,159.00 L308.80,159.00 L309.20,159.00 L309.60,159.00 L310.00,159.00 L310.40,159.00 L310.80,159.00 L311.20,159.00 L311.60,159.00 L312.00,159.00 L312.40,159.00 L312.80,159.00 L313.20,159.00 L313.60,159.00 L314.00,159.00 L314.40,159.00 L314.80,159.00 L315.20,159.00 L315.60,159.00 L316.00,159.00 L316.40,159.00 L316.80,159.00 L317.20,159.00 L317.60,159.00 L318.00,159.00 L318.40,159.00 L318.80,159.00 L319.20,159.00 L319.60,159.00 L320.00,159.00 L320.40,158.99 L320.80,158.96 L321.20,158.92 L321.60,158.86 L322.00,158.80 L322.40,158.72 L322.80,158.62 L323.20,158.47 L323.60,158.27 L324.00,158.00 L324.40,157.09 L324.80,155.13 L325.20,152.33 L325.60,148.92 L326.00,143.83 L326.40,135.05 L326.80,124.45 L327.20,114.07 L327.60,105.50 L328.00,97.49 L328.40,90.02 L328.80,83.39 L329.20,76.46 L329.60,69.57 L330.00,63.87 L330.40,60.48 L330.80,60.76 L331.20,65.91 L331.60,73.76 L332.00,81.75 L332.40,87.75 L332.80,92.84 L333.20,97.69 L333.60,102.66 L334.00,108.12 L334.40,114.90 L334.80,123.59 L335.20,132.77 L335.60,140.93 L336.00,146.58 L336.40,148.82 L336.80,150.25 L337.20,151.42 L337.60,152.33 L338.00,153.00 L338.40,153.43 L338.80,153.69 L339.20,153.93 L339.60,154.14 L340.00,154.34 L340.40,154.51 L340.80,154.67 L341.20,154.80 L341.60,154.90 L342.00,154.99 L342.40,155.05 L342.80,155.09 L343.20,155.10 L343.60,155.09 L344.00,155.05 L344.40,154.99 L344.80,154.92 L345.20,154.83 L345.60,154.72 L346.00,154.61 L346.40,154.49 L346.80,154.37 L347.20,154.24 L347.60,154.12 L348.00,154.00 L348.40,153.88 L348.80,153.75 L349.20,153.61 L349.60,153.46 L350.00,153.31 L350.40,153.15 L350.80,152.99 L351.20,152.83 L351.60,152.66 L352.00,152.50 L352.40,152.34 L352.80,152.18 L353.20,152.03 L353.60,151.87 L354.00,151.72 L354.40,151.56 L354.80,151.40 L355.20,151.23 L355.60,151.06 L356.00,150.88 L356.40,150.68 L356.80,150.48 L357.20,150.27 L357.60,150.04 L358.00,149.80 L358.40,149.54 L358.80,149.25 L359.20,148.93 L359.60,148.59 L360.00,148.22 L360.40,147.83 L360.80,147.41 L361.20,146.97 L361.60,146.50 L362.00,146.00 L362.40,145.46 L362.80,144.85 L363.20,144.19 L363.60,143.46 L364.00,142.68 L364.40,141.84 L364.80,140.96 L365.20,140.03 L365.60,139.02 L366.00,137.93 L366.40,136.74 L366.80,135.44 L367.20,134.00 L367.60,132.42 L368.00,130.65 L368.40,128.57 L368.80,126.15 L369.20,123.36 L369.60,120.12 L370.00,115.73 L370.40,110.59 L370.80,104.98 L371.20,97.85 L371.60,93.15 L372.00,95.68 L372.40,103.95 L372.80,112.84 L373.20,122.82 L373.60,131.27 L374.00,138.90 L374.40,144.00 L374.80,147.60 L375.20,150.48 L375.60,152.57 L376.00,153.90 L376.40,154.97 L376.80,155.88 L377.20,156.60 L377.60,157.15 L378.00,157.50 L378.40,157.74 L378.80,157.97 L379.20,158.16 L379.60,158.33 L380.00,158.46 L380.40,158.55 L380.80,158.59 L381.20,158.60 L381.60,158.60 L382.00,158.60 L382.40,158.60 L382.80,158.60 L383.20,158.60 L383.60,158.60 L384.00,158.60 L384.40,158.60 L384.80,158.60 L385.20,158.60 L385.60,158.60 L386.00,158.60 L386.40,158.60 L386.80,158.60 L387.20,158.60 L387.60,158.60 L388.00,158.60 L388.40,158.60 L388.80,158.60 L389.20,158.60 L389.60,158.60 L390.00,158.60 L390.40,158.60 L390.80,158.60 L391.20,158.60 L391.60,158.60 L392.00,158.60 L392.40,158.60 L392.80,158.60 L393.20,158.60 L393.60,158.60 L394.00,158.60 L394.40,158.60 L394.80,158.60 L395.20,158.60 L395.60,158.60 L396.00,158.60 L396.40,158.60 L396.80,158.60 L397.20,158.60 L397.60,158.60 L398.00,158.60 L398.40,158.60 L398.80,158.60 L399.20,158.60 L399.60,158.60 L400.00,158.60 L400.40,158.60 L400.80,158.60 L401.20,158.60 L401.60,158.60 L402.00,158.60 L402.40,158.60 L402.80,158.60 L403.20,158.60 L403.60,158.60 L404.00,158.60 L404.40,158.60 L404.80,158.60 L405.20,158.60 L405.60,158.60 L406.00,158.60 L406.40,158.60 L406.80,158.60 L407.20,158.60 L407.60,158.60 L408.00,158.59 L408.40,158.59 L408.80,158.59 L409.20,158.59 L409.60,158.59 L410.00,158.59 L410.40,158.59 L410.80,158.59 L411.20,158.59 L411.60,158.59 L412.00,158.59 L412.40,158.58 L412.80,158.58 L413.20,158.58 L413.60,158.58 L414.00,158.58 L414.40,158.58 L414.80,158.58 L415.20,158.57 L415.60,158.57 L416.00,158.57 L416.40,158.57 L416.80,158.57 L417.20,158.56 L417.60,158.56 L418.00,158.56 L418.40,158.56 L418.80,158.55 L419.20,158.55 L419.60,158.55 L420.00,158.55 L420.40,158.54 L420.80,158.54 L421.20,158.54 L421.60,158.53 L422.00,158.53 L422.40,158.53 L422.80,158.52 L423.20,158.52 L423.60,158.51 L424.00,158.51 L424.40,158.51 L424.80,158.50 L425.20,158.48 L425.60,158.35 L426.00,158.15 L426.40,157.95 L426.80,157.82 L427.20,157.81 L427.60,157.88 L428.00,158.01 L428.40,158.16 L428.80,158.32 L429.20,158.46 L429.60,158.56 L430.00,158.60 L430.40,158.60 L430.80,158.60 L431.20,158.60 L431.60,158.60 L432.00,158.60 L432.40,158.60 L432.80,158.60 L433.20,158.60 L433.60,158.60 L434.00,158.60 L434.40,158.60 L434.80,158.60 L435.20,158.60 L435.60,158.60 L436.00,158.60 L436.40,158.60 L436.80,158.60 L437.20,158.60 L437.60,158.60 L438.00,158.60 L438.40,158.60 L438.80,158.60 L439.20,158.60 L439.60,158.60 L440.00,158.60 L440.40,158.60 L440.80,158.60 L441.20,158.60 L441.60,158.60 L442.00,158.60 L442.40,158.60 L442.80,158.60 L443.20,158.60 L443.60,158.60 L444.00,158.60 L444.40,158.60 L444.80,158.60 L445.20,158.60 L445.60,158.60 L446.00,158.60 L446.40,158.60 L446.80,158.60 L447.20,158.60 L447.60,158.60 L448.00,158.60 L448.40,158.60 L448.80,158.60 L449.20,158.60 L449.60,158.60 L450.00,158.60 L450.40,158.60 L450.80,158.60 L451.20,158.60 L451.60,158.60 L452.00,158.60 L452.40,158.60 L452.80,158.60 L453.20,158.60 L453.60,158.60 L454.00,158.60 L454.40,158.60 L454.80,158.60 L455.20,158.60 L455.60,158.60 L456.00,158.60 L456.40,158.60 L456.80,158.60 L457.20,158.60 L457.60,158.60 L458.00,158.60 L458.40,158.60 L458.80,158.60 L459.20,158.60 L459.60,158.60 L460.00,158.60 L460.40,158.60 L460.80,158.60 L461.20,158.60 L461.60,158.60 L462.00,158.60 L462.40,158.60 L462.80,158.60 L463.20,158.60 L463.60,158.60 L464.00,158.60 L464.40,158.60 L464.80,158.60 L465.20,158.60 L465.60,158.60 L466.00,158.60 L466.40,158.60 L466.80,158.60 L467.20,158.60 L467.60,158.60 L468.00,158.60 L468.40,158.60 L468.80,158.60" fill="none" stroke="#2a2af0" stroke-width="0.95" stroke-linejoin="round"/>
<path d="M268.00,279.50 L268.40,279.50 L268.80,279.50 L269.20,279.50 L269.60,279.50 L270.00,279.50 L270.40,279.50 L270.80,279.50 L271.20,279.50 L271.60,279.50 L272.00,279.50 L272.40,279.50 L272.80,279.50 L273.20,279.50 L273.60,279.50 L274.00,279.50 L274.40,279.50 L274.80,279.50 L275.20,279.50 L275.60,279.50 L276.00,279.50 L276.40,279.50 L276.80,279.50 L277.20,279.50 L277.60,279.50 L278.00,279.50 L278.40,279.50 L278.80,279.50 L279.20,279.50 L279.60,279.50 L280.00,279.50 L280.40,279.50 L280.80,279.50 L281.20,279.50 L281.60,279.50 L282.00,279.50 L282.40,279.50 L282.80,279.50 L283.20,279.50 L283.60,279.50 L284.00,279.50 L284.40,279.50 L284.80,279.50 L285.20,279.50 L285.60,279.50 L286.00,279.49 L286.40,279.47 L286.80,279.46 L287.20,279.44 L287.60,279.42 L288.00,279.39 L288.40,279.36 L288.80,279.33 L289.20,279.29 L289.60,279.26 L290.00,279.22 L290.40,279.18 L290.80,279.14 L291.20,279.09 L291.60,279.05 L292.00,279.00 L292.40,278.95 L292.80,278.89 L293.20,278.82 L293.60,278.73 L294.00,278.64 L294.40,278.54 L294.80,278.42 L295.20,278.29 L295.60,278.15 L296.00,278.00 L296.40,277.80 L296.80,277.53 L297.20,277.20 L297.60,276.84 L298.00,276.46 L298.40,276.09 L298.80,275.66 L299.20,275.14 L299.60,274.76 L300.00,274.76 L300.40,275.16 L300.80,275.74 L301.20,276.27 L301.60,276.54 L302.00,276.69 L302.40,276.82 L302.80,276.92 L303.20,276.99 L303.60,277.00 L304.00,276.91 L304.40,276.74 L304.80,276.50 L305.20,276.22 L305.60,275.92 L306.00,275.52 L306.40,274.99 L306.80,274.35 L307.20,273.61 L307.60,272.79 L308.00,271.82 L308.40,270.58 L308.80,268.98 L309.20,266.67 L309.60,262.58 L310.00,257.23 L310.40,251.43 L310.80,245.70 L311.20,239.43 L311.60,231.81 L312.00,220.77 L312.40,206.36 L312.80,193.74 L313.20,182.24 L313.60,181.95 L314.00,191.99 L314.40,202.16 L314.80,210.71 L315.20,219.17 L315.60,227.52 L316.00,235.91 L316.40,244.29 L316.80,252.00 L317.20,259.58 L317.60,266.07 L318.00,269.22 L318.40,271.24 L318.80,272.75 L319.20,273.86 L319.60,274.69 L320.00,275.37 L320.40,275.96 L320.80,276.46 L321.20,276.88 L321.60,277.23 L322.00,277.50 L322.40,277.73 L322.80,277.95 L323.20,278.15 L323.60,278.33 L324.00,278.49 L324.40,278.64 L324.80,278.76 L325.20,278.87 L325.60,278.94 L326.00,279.00 L326.40,279.04 L326.80,279.08 L327.20,279.12 L327.60,279.16 L328.00,279.19 L328.40,279.23 L328.80,279.26 L329.20,279.29 L329.60,279.31 L330.00,279.34 L330.40,279.36 L330.80,279.39 L331.20,279.41 L331.60,279.43 L332.00,279.44 L332.40,279.46 L332.80,279.47 L333.20,279.48 L333.60,279.49 L334.00,279.49 L334.40,279.50 L334.80,279.50 L335.20,279.50 L335.60,279.50 L336.00,279.50 L336.40,279.50 L336.80,279.50 L337.20,279.50 L337.60,279.50 L338.00,279.50 L338.40,279.50 L338.80,279.50 L339.20,279.50 L339.60,279.50 L340.00,279.50 L340.40,279.50 L340.80,279.50 L341.20,279.50 L341.60,279.50 L342.00,279.50 L342.40,279.50 L342.80,279.50 L343.20,279.50 L343.60,279.50 L344.00,279.50 L344.40,279.50 L344.80,279.50 L345.20,279.50 L345.60,279.50 L346.00,279.50 L346.40,279.50 L346.80,279.50 L347.20,279.50 L347.60,279.50 L348.00,279.50 L348.40,279.50 L348.80,279.50 L349.20,279.50 L349.60,279.50 L350.00,279.50 L350.40,279.50 L350.80,279.50 L351.20,279.50 L351.60,279.50 L352.00,279.50 L352.40,279.50 L352.80,279.50 L353.20,279.50 L353.60,279.50 L354.00,279.50 L354.40,279.50 L354.80,279.50 L355.20,279.50 L355.60,279.50 L356.00,279.50 L356.40,279.50 L356.80,279.50 L357.20,279.50 L357.60,279.50 L358.00,279.50 L358.40,279.50 L358.80,279.50 L359.20,279.50 L359.60,279.50 L360.00,279.50 L360.40,279.50 L360.80,279.50 L361.20,279.50 L361.60,279.50 L362.00,279.50 L362.40,279.50 L362.80,279.50 L363.20,279.50 L363.60,279.50 L364.00,279.50 L364.40,279.50 L364.80,279.50 L365.20,279.50 L365.60,279.50 L366.00,279.50 L366.40,279.50 L366.80,279.50 L367.20,279.50 L367.60,279.50 L368.00,279.50 L368.40,279.50 L368.80,279.50 L369.20,279.50 L369.60,279.50 L370.00,279.50 L370.40,279.50 L370.80,279.50 L371.20,279.50 L371.60,279.50 L372.00,279.50 L372.40,279.50 L372.80,279.50 L373.20,279.50 L373.60,279.50 L374.00,279.50 L374.40,279.50 L374.80,279.50 L375.20,279.50 L375.60,279.50 L376.00,279.50 L376.40,279.50 L376.80,279.50 L377.20,279.50 L377.60,279.50 L378.00,279.50 L378.40,279.50 L378.80,279.50 L379.20,279.50 L379.60,279.50 L380.00,279.50 L380.40,279.50 L380.80,279.50 L381.20,279.50 L381.60,279.50 L382.00,279.50 L382.40,279.50 L382.80,279.50 L383.20,279.50 L383.60,279.50 L384.00,279.50 L384.40,279.50 L384.80,279.50 L385.20,279.50 L385.60,279.50 L386.00,279.50 L386.40,279.50 L386.80,279.50 L387.20,279.50 L387.60,279.50 L388.00,279.50 L388.40,279.50 L388.80,279.50 L389.20,279.50 L389.60,279.50 L390.00,279.50 L390.40,279.50 L390.80,279.50 L391.20,279.50 L391.60,279.50 L392.00,279.50 L392.40,279.50 L392.80,279.50 L393.20,279.50 L393.60,279.50 L394.00,279.50 L394.40,279.50 L394.80,279.50 L395.20,279.50 L395.60,279.50 L396.00,279.50 L396.40,279.50 L396.80,279.50 L397.20,279.50 L397.60,279.50 L398.00,279.50 L398.40,279.50 L398.80,279.50 L399.20,279.50 L399.60,279.50 L400.00,279.50 L400.40,279.50 L400.80,279.50 L401.20,279.50 L401.60,279.50 L402.00,279.50 L402.40,279.50 L402.80,279.50 L403.20,279.50 L403.60,279.50 L404.00,279.50 L404.40,279.50 L404.80,279.50 L405.20,279.50 L405.60,279.50 L406.00,279.50 L406.40,279.50 L406.80,279.50 L407.20,279.50 L407.60,279.50 L408.00,279.50 L408.40,279.50 L408.80,279.50 L409.20,279.50 L409.60,279.50 L410.00,279.50 L410.40,279.50 L410.80,279.50 L411.20,279.50 L411.60,279.50 L412.00,279.50 L412.40,279.50 L412.80,279.50 L413.20,279.50 L413.60,279.50 L414.00,279.50 L414.40,279.50 L414.80,279.50 L415.20,279.50 L415.60,279.50 L416.00,279.50 L416.40,279.50 L416.80,279.50 L417.20,279.50 L417.60,279.50 L418.00,279.50 L418.40,279.50 L418.80,279.50 L419.20,279.50 L419.60,279.50 L420.00,279.50 L420.40,279.50 L420.80,279.50 L421.20,279.50 L421.60,279.50 L422.00,279.50 L422.40,279.50 L422.80,279.50 L423.20,279.50 L423.60,279.50 L424.00,279.50 L424.40,279.50 L424.80,279.50 L425.20,279.47 L425.60,279.30 L426.00,279.01 L426.40,278.69 L426.80,278.40 L427.20,278.23 L427.60,278.23 L428.00,278.46 L428.40,278.80 L428.80,279.16 L429.20,279.43 L429.60,279.50 L430.00,279.50 L430.40,279.50 L430.80,279.50 L431.20,279.50 L431.60,279.50 L432.00,279.50 L432.40,279.50 L432.80,279.50 L433.20,279.50 L433.60,279.50 L434.00,279.50 L434.40,279.50 L434.80,279.50 L435.20,279.50 L435.60,279.50 L436.00,279.50 L436.40,279.50 L436.80,279.50 L437.20,279.50 L437.60,279.50 L438.00,279.50 L438.40,279.50 L438.80,279.50 L439.20,279.50 L439.60,279.50 L440.00,279.50 L440.40,279.50 L440.80,279.50 L441.20,279.50 L441.60,279.50 L442.00,279.50 L442.40,279.50 L442.80,279.50 L443.20,279.50 L443.60,279.50 L444.00,279.50 L444.40,279.50 L444.80,279.50 L445.20,279.50 L445.60,279.50 L446.00,279.50 L446.40,279.50 L446.80,279.50 L447.20,279.50 L447.60,279.50 L448.00,279.50 L448.40,279.50 L448.80,279.50 L449.20,279.50 L449.60,279.50 L450.00,279.50 L450.40,279.50 L450.80,279.50 L451.20,279.50 L451.60,279.50 L452.00,279.50 L452.40,279.50 L452.80,279.50 L453.20,279.50 L453.60,279.50 L454.00,279.50 L454.40,279.50 L454.80,279.50 L455.20,279.50 L455.60,279.50 L456.00,279.50 L456.40,279.50 L456.80,279.50 L457.20,279.50 L457.60,279.50 L458.00,279.50 L458.40,279.50 L458.80,279.50 L459.20,279.50 L459.60,279.50 L460.00,279.50 L460.40,279.50 L460.80,279.50 L461.20,279.50 L461.60,279.50 L462.00,279.50 L462.40,279.50 L462.80,279.50 L463.20,279.50 L463.60,279.50 L464.00,279.50 L464.40,279.50 L464.80,279.50 L465.20,279.50 L465.60,279.50 L466.00,279.50 L466.40,279.50 L466.80,279.50 L467.20,279.50 L467.60,279.50 L468.00,279.50 L468.40,279.50 L468.80,279.50" fill="none" stroke="#f52020" stroke-width="0.95" stroke-linejoin="round"/>
<path d="M499.00,159.08 L499.40,158.86 L499.80,158.88 L500.20,158.93 L500.60,158.89 L501.00,158.83 L501.40,158.74 L501.80,158.79 L502.20,159.02 L502.60,159.25 L503.00,159.11 L503.40,158.90 L503.80,158.85 L504.20,158.79 L504.60,158.75 L505.00,158.84 L505.40,158.91 L505.80,158.94 L506.20,158.96 L506.60,158.90 L507.00,158.94 L507.40,159.04 L507.80,158.96 L508.20,158.81 L508.60,158.81 L509.00,158.96 L509.40,159.02 L509.80,158.86 L510.20,158.81 L510.60,158.83 L511.00,158.72 L511.40,158.74 L511.80,158.86 L512.20,158.85 L512.60,158.81 L513.00,158.66 L513.40,158.52 L513.80,158.62 L514.20,158.56 L514.60,158.48 L515.00,158.65 L515.40,158.72 L515.80,158.58 L516.20,158.50 L516.60,158.56 L517.00,158.67 L517.40,158.77 L517.80,158.73 L518.20,158.68 L518.60,158.66 L519.00,158.53 L519.40,158.45 L519.80,158.55 L520.20,158.57 L520.60,158.45 L521.00,158.38 L521.40,158.31 L521.80,158.23 L522.20,158.38 L522.60,158.40 L523.00,158.25 L523.40,158.24 L523.80,158.29 L524.20,158.26 L524.60,158.10 L525.00,158.14 L525.40,158.36 L525.80,158.30 L526.20,158.05 L526.60,158.07 L527.00,158.17 L527.40,158.20 L527.80,158.22 L528.20,158.10 L528.60,158.02 L529.00,158.05 L529.40,158.13 L529.80,158.06 L530.20,157.86 L530.60,157.85 L531.00,158.05 L531.40,158.10 L531.80,158.04 L532.20,158.01 L532.60,157.87 L533.00,157.68 L533.40,157.58 L533.80,157.64 L534.20,157.67 L534.60,157.50 L535.00,157.40 L535.40,157.44 L535.80,157.47 L536.20,157.37 L536.60,157.11 L537.00,156.98 L537.40,157.10 L537.80,157.19 L538.20,157.07 L538.60,156.83 L539.00,156.53 L539.40,156.19 L539.80,155.78 L540.20,155.26 L540.60,154.61 L541.00,153.97 L541.40,153.11 L541.80,151.88 L542.20,150.57 L542.60,149.34 L543.00,147.73 L543.40,145.79 L543.80,144.50 L544.20,144.86 L544.60,146.44 L545.00,148.16 L545.40,149.55 L545.80,151.27 L546.20,152.75 L546.60,153.58 L547.00,153.98 L547.40,154.37 L547.80,154.73 L548.20,155.09 L548.60,155.28 L549.00,155.26 L549.40,155.30 L549.80,155.44 L550.20,155.58 L550.60,155.64 L551.00,155.57 L551.40,155.43 L551.80,155.38 L552.20,155.47 L552.60,155.55 L553.00,155.38 L553.40,155.04 L553.80,154.68 L554.20,153.97 L554.60,152.77 L555.00,151.26 L555.40,149.53 L555.80,145.35 L556.20,138.71 L556.60,130.66 L557.00,119.57 L557.40,106.13 L557.80,88.40 L558.20,71.60 L558.60,60.06 L559.00,69.77 L559.40,82.48 L559.80,91.46 L560.20,97.94 L560.60,100.40 L561.00,95.79 L561.40,90.95 L561.80,87.07 L562.20,86.11 L562.60,91.69 L563.00,98.18 L563.40,104.94 L563.80,110.84 L564.20,116.36 L564.60,120.19 L565.00,122.23 L565.40,123.74 L565.80,125.13 L566.20,126.28 L566.60,127.26 L567.00,128.13 L567.40,128.80 L567.80,129.31 L568.20,129.86 L568.60,130.53 L569.00,131.29 L569.40,132.43 L569.80,133.90 L570.20,135.52 L570.60,137.26 L571.00,138.82 L571.40,140.34 L571.80,141.95 L572.20,143.58 L572.60,145.12 L573.00,146.11 L573.40,146.27 L573.80,145.79 L574.20,144.97 L574.60,143.98 L575.00,143.07 L575.40,142.29 L575.80,141.47 L576.20,140.96 L576.60,141.27 L577.00,142.59 L577.40,144.44 L577.80,146.12 L578.20,147.59 L578.60,149.34 L579.00,151.12 L579.40,152.57 L579.80,153.63 L580.20,154.08 L580.60,154.03 L581.00,153.96 L581.40,153.77 L581.80,153.65 L582.20,153.58 L582.60,153.46 L583.00,153.31 L583.40,153.35 L583.80,153.71 L584.20,154.17 L584.60,154.73 L585.00,155.34 L585.40,155.87 L585.80,156.27 L586.20,156.55 L586.60,156.78 L587.00,157.02 L587.40,157.35 L587.80,157.71 L588.20,158.10 L588.60,158.22 L589.00,158.07 L589.40,158.07 L589.80,157.95 L590.20,157.66 L590.60,157.39 L591.00,156.92 L591.40,156.40 L591.80,156.08 L592.20,155.74 L592.60,155.07 L593.00,154.32 L593.40,153.80 L593.80,153.40 L594.20,153.28 L594.60,153.87 L595.00,154.87 L595.40,155.98 L595.80,156.92 L596.20,157.22 L596.60,157.36 L597.00,157.65 L597.40,158.13 L597.80,158.53 L598.20,158.63 L598.60,158.73 L599.00,158.90 L599.40,159.08 L599.80,159.19 L600.20,159.10 L600.60,159.06 L601.00,159.08 L601.40,159.01 L601.80,159.00 L602.20,159.11 L602.60,159.08 L603.00,158.95 L603.40,158.87 L603.80,158.91 L604.20,159.07 L604.60,159.16 L605.00,159.19 L605.40,159.19 L605.80,159.13 L606.20,159.08 L606.60,159.11 L607.00,159.10 L607.40,159.06 L607.80,159.13 L608.20,159.18 L608.60,159.07 L609.00,159.01 L609.40,159.15 L609.80,159.22 L610.20,159.07 L610.60,158.97 L611.00,159.04 L611.40,159.02 L611.80,158.90 L612.20,159.00 L612.60,159.10 L613.00,159.05 L613.40,159.13 L613.80,159.10 L614.20,158.98 L614.60,158.92 L615.00,158.83 L615.40,158.96 L615.80,159.11 L616.20,159.09 L616.60,159.14 L617.00,159.13 L617.40,159.10 L617.80,158.94 L618.20,158.75 L618.60,158.84 L619.00,158.93 L619.40,158.83 L619.80,158.83 L620.20,158.94 L620.60,158.87 L621.00,158.76 L621.40,158.89 L621.80,159.03 L622.20,159.04 L622.60,159.15 L623.00,159.20 L623.40,159.02 L623.80,158.82 L624.20,158.81 L624.60,158.98 L625.00,159.10 L625.40,159.10 L625.80,159.05 L626.20,159.00 L626.60,158.98 L627.00,158.95 L627.40,158.88 L627.80,158.78 L628.20,158.75 L628.60,158.82 L629.00,158.82 L629.40,158.88 L629.80,159.01 L630.20,159.17 L630.60,159.33 L631.00,159.21 L631.40,159.02 L631.80,159.06 L632.20,159.04 L632.60,159.00 L633.00,159.04 L633.40,158.82 L633.80,158.70 L634.20,158.90 L634.60,159.05 L635.00,159.09 L635.40,158.95 L635.80,158.93 L636.20,159.04 L636.60,158.98 L637.00,159.04 L637.40,159.16 L637.80,159.08 L638.20,159.00 L638.60,159.05 L639.00,159.05 L639.40,158.99 L639.80,159.05 L640.20,159.20 L640.60,159.25 L641.00,159.04 L641.40,158.93 L641.80,159.01 L642.20,159.01 L642.60,159.02 L643.00,159.09 L643.40,159.09 L643.80,158.99 L644.20,158.83 L644.60,158.70 L645.00,158.86 L645.40,159.08 L645.80,158.97 L646.20,158.83 L646.60,158.87 L647.00,159.01 L647.40,158.99 L647.80,158.92 L648.20,159.02 L648.60,159.10 L649.00,159.06 L649.40,159.06 L649.80,159.16 L650.20,159.12 L650.60,158.98 L651.00,158.93 L651.40,158.99 L651.80,159.06 L652.20,159.07 L652.60,159.12 L653.00,159.18 L653.40,159.20 L653.80,159.15 L654.20,158.94 L654.60,158.82 L655.00,158.97 L655.40,159.10 L655.80,159.08 L656.20,159.04 L656.60,158.96 L657.00,158.89 L657.40,158.95 L657.80,159.10 L658.20,159.06 L658.60,158.89 L659.00,158.83 L659.40,158.99 L659.80,159.16 L660.20,159.08 L660.60,159.02 L661.00,159.18 L661.40,159.26 L661.80,159.21 L662.20,159.19 L662.60,159.18 L663.00,159.15 L663.40,159.07 L663.80,159.04 L664.20,159.12 L664.60,159.20 L665.00,159.11 L665.40,158.93 L665.80,159.02 L666.20,159.12 L666.60,159.04 L667.00,159.07 L667.40,159.13 L667.80,159.07 L668.20,158.97 L668.60,159.01 L669.00,159.16 L669.40,159.18 L669.80,159.08 L670.20,159.02 L670.60,159.08 L671.00,159.06 L671.40,158.88 L671.80,158.82 L672.20,158.89 L672.60,158.87 L673.00,158.89 L673.40,159.00 L673.80,159.00 L674.20,158.96 L674.60,158.94 L675.00,158.89 L675.40,158.89 L675.80,158.81 L676.20,158.83 L676.60,158.98 L677.00,158.95 L677.40,158.88 L677.80,158.94 L678.20,159.02 L678.60,159.02 L679.00,159.05 L679.40,159.07 L679.80,158.96 L680.20,158.89 L680.60,158.98 L681.00,159.14 L681.40,159.22 L681.80,159.18 L682.20,159.05 L682.60,159.03 L683.00,159.06 L683.40,159.04 L683.80,159.10 L684.20,159.08 L684.60,158.96 L685.00,158.95 L685.40,159.07 L685.80,159.30 L686.20,159.34 L686.60,159.12 L687.00,158.88 L687.40,158.78 L687.80,158.91 L688.20,158.96 L688.60,158.93 L689.00,158.95 L689.40,158.87 L689.80,158.91 L690.20,158.94 L690.60,158.92 L691.00,159.08 L691.40,159.08 L691.80,158.84 L692.20,158.82 L692.60,158.99 L693.00,158.97 L693.40,158.86 L693.80,158.90 L694.20,158.97 L694.60,159.02 L695.00,159.09 L695.40,159.17 L695.80,159.26 L696.20,159.26 L696.60,159.19 L697.00,159.21 L697.40,159.22 L697.80,159.08 L698.20,158.96 L698.60,159.03 L699.00,159.13 L699.40,159.17 L699.80,159.09" fill="none" stroke="#2a2af0" stroke-width="0.95" stroke-linejoin="round"/>
<path d="M499.00,278.51 L499.40,278.66 L499.80,278.87 L500.20,278.73 L500.60,278.49 L501.00,278.52 L501.40,278.61 L501.80,278.57 L502.20,278.52 L502.60,278.65 L503.00,278.86 L503.40,278.96 L503.80,278.90 L504.20,278.73 L504.60,278.73 L505.00,278.82 L505.40,278.73 L505.80,278.76 L506.20,278.74 L506.60,278.60 L507.00,278.60 L507.40,278.68 L507.80,278.78 L508.20,278.89 L508.60,278.85 L509.00,278.65 L509.40,278.62 L509.80,278.73 L510.20,278.70 L510.60,278.56 L511.00,278.63 L511.40,278.71 L511.80,278.69 L512.20,278.84 L512.60,278.95 L513.00,279.00 L513.40,278.92 L513.80,278.69 L514.20,278.63 L514.60,278.77 L515.00,278.93 L515.40,278.91 L515.80,278.72 L516.20,278.62 L516.60,278.61 L517.00,278.63 L517.40,278.68 L517.80,278.84 L518.20,278.94 L518.60,278.75 L519.00,278.64 L519.40,278.64 L519.80,278.52 L520.20,278.50 L520.60,278.61 L521.00,278.56 L521.40,278.49 L521.80,278.55 L522.20,278.51 L522.60,278.47 L523.00,278.54 L523.40,278.55 L523.80,278.50 L524.20,278.36 L524.60,278.27 L525.00,278.18 L525.40,278.13 L525.80,278.16 L526.20,277.97 L526.60,277.93 L527.00,278.12 L527.40,277.93 L527.80,277.78 L528.20,277.89 L528.60,277.81 L529.00,277.65 L529.40,277.45 L529.80,277.22 L530.20,276.97 L530.60,276.81 L531.00,276.86 L531.40,276.98 L531.80,277.13 L532.20,277.05 L532.60,276.72 L533.00,276.52 L533.40,276.33 L533.80,276.02 L534.20,275.68 L534.60,275.41 L535.00,275.22 L535.40,275.02 L535.80,274.81 L536.20,274.62 L536.60,274.44 L537.00,274.11 L537.40,273.78 L537.80,273.54 L538.20,273.15 L538.60,272.65 L539.00,272.17 L539.40,271.71 L539.80,271.23 L540.20,270.45 L540.60,269.14 L541.00,267.40 L541.40,265.33 L541.80,263.07 L542.20,260.73 L542.60,258.03 L543.00,254.77 L543.40,251.13 L543.80,246.99 L544.20,242.35 L544.60,237.66 L545.00,232.74 L545.40,227.48 L545.80,222.32 L546.20,217.54 L546.60,212.88 L547.00,208.46 L547.40,204.06 L547.80,200.03 L548.20,196.60 L548.60,193.13 L549.00,189.71 L549.40,186.81 L549.80,184.15 L550.20,181.55 L550.60,180.67 L551.00,182.13 L551.40,184.60 L551.80,187.08 L552.20,190.17 L552.60,193.42 L553.00,196.49 L553.40,199.75 L553.80,203.06 L554.20,206.37 L554.60,209.50 L555.00,212.25 L555.40,214.96 L555.80,217.25 L556.20,218.92 L556.60,220.48 L557.00,221.88 L557.40,223.12 L557.80,224.33 L558.20,225.51 L558.60,226.60 L559.00,227.46 L559.40,228.20 L559.80,228.96 L560.20,229.61 L560.60,230.30 L561.00,231.03 L561.40,231.62 L561.80,232.16 L562.20,232.68 L562.60,233.10 L563.00,233.60 L563.40,234.31 L563.80,235.07 L564.20,235.87 L564.60,236.75 L565.00,237.31 L565.40,237.85 L565.80,239.02 L566.20,240.28 L566.60,241.13 L567.00,241.89 L567.40,242.91 L567.80,244.14 L568.20,245.25 L568.60,246.23 L569.00,247.32 L569.40,248.47 L569.80,249.41 L570.20,250.32 L570.60,251.47 L571.00,252.54 L571.40,253.55 L571.80,254.58 L572.20,255.35 L572.60,256.19 L573.00,257.50 L573.40,258.60 L573.80,259.35 L574.20,260.20 L574.60,261.06 L575.00,261.87 L575.40,262.80 L575.80,263.68 L576.20,264.45 L576.60,265.21 L577.00,266.13 L577.40,267.15 L577.80,267.97 L578.20,268.53 L578.60,268.97 L579.00,269.51 L579.40,270.27 L579.80,270.81 L580.20,271.14 L580.60,271.55 L581.00,271.86 L581.40,272.32 L581.80,272.78 L582.20,272.91 L582.60,273.18 L583.00,273.71 L583.40,274.07 L583.80,274.30 L584.20,274.55 L584.60,274.77 L585.00,275.06 L585.40,275.23 L585.80,275.36 L586.20,275.59 L586.60,275.86 L587.00,276.25 L587.40,276.47 L587.80,276.44 L588.20,276.39 L588.60,276.46 L589.00,276.71 L589.40,277.03 L589.80,277.26 L590.20,277.46 L590.60,277.67 L591.00,277.78 L591.40,277.74 L591.80,277.91 L592.20,278.27 L592.60,278.34 L593.00,278.31 L593.40,278.36 L593.80,278.29 L594.20,278.15 L594.60,278.18 L595.00,278.39 L595.40,278.54 L595.80,278.63 L596.20,278.63 L596.60,278.56 L597.00,278.61 L597.40,278.68 L597.80,278.59 L598.20,278.53 L598.60,278.62 L599.00,278.74 L599.40,278.88 L599.80,278.89 L600.20,278.80 L600.60,278.73 L601.00,278.66 L601.40,278.68 L601.80,278.80 L602.20,278.91 L602.60,278.81 L603.00,278.68 L603.40,278.74 L603.80,278.74 L604.20,278.65 L604.60,278.57 L605.00,278.73 L605.40,279.00 L605.80,278.96 L606.20,278.77 L606.60,278.57 L607.00,278.51 L607.40,278.63 L607.80,278.76 L608.20,278.77 L608.60,278.70 L609.00,278.85 L609.40,278.92 L609.80,278.80 L610.20,278.76 L610.60,278.72 L611.00,278.78 L611.40,278.95 L611.80,278.97 L612.20,278.81 L612.60,278.83 L613.00,278.85 L613.40,278.71 L613.80,278.66 L614.20,278.64 L614.60,278.70 L615.00,278.88 L615.40,279.09 L615.80,279.26 L616.20,279.22 L616.60,279.04 L617.00,278.85 L617.40,278.77 L617.80,278.67 L618.20,278.64 L618.60,278.83 L619.00,278.76 L619.40,278.61 L619.80,278.74 L620.20,278.97 L620.60,279.00 L621.00,278.87 L621.40,278.83 L621.80,278.76 L622.20,278.68 L622.60,278.76 L623.00,278.71 L623.40,278.67 L623.80,278.73 L624.20,278.67 L624.60,278.65 L625.00,278.61 L625.40,278.56 L625.80,278.67 L626.20,278.73 L626.60,278.63 L627.00,278.74 L627.40,278.88 L627.80,278.75 L628.20,278.73 L628.60,278.77 L629.00,278.72 L629.40,278.70 L629.80,278.70 L630.20,278.75 L630.60,278.69 L631.00,278.66 L631.40,278.79 L631.80,278.74 L632.20,278.57 L632.60,278.50 L633.00,278.54 L633.40,278.62 L633.80,278.73 L634.20,278.71 L634.60,278.52 L635.00,278.58 L635.40,278.77 L635.80,278.75 L636.20,278.78 L636.60,278.86 L637.00,278.79 L637.40,278.69 L637.80,278.74 L638.20,278.89 L638.60,278.80 L639.00,278.61 L639.40,278.56 L639.80,278.56 L640.20,278.71 L640.60,278.75 L641.00,278.60 L641.40,278.44 L641.80,278.41 L642.20,278.59 L642.60,278.63 L643.00,278.62 L643.40,278.66 L643.80,278.56 L644.20,278.49 L644.60,278.45 L645.00,278.60 L645.40,278.88 L645.80,278.79 L646.20,278.69 L646.60,278.60 L647.00,278.37 L647.40,278.52 L647.80,278.67 L648.20,278.65 L648.60,278.63 L649.00,278.54 L649.40,278.71 L649.80,278.76 L650.20,278.48 L650.60,278.48 L651.00,278.70 L651.40,278.77 L651.80,278.77 L652.20,278.86 L652.60,278.82 L653.00,278.70 L653.40,278.69 L653.80,278.58 L654.20,278.39 L654.60,278.52 L655.00,278.87 L655.40,279.08 L655.80,279.06 L656.20,278.84 L656.60,278.81 L657.00,278.94 L657.40,278.97 L657.80,279.01 L658.20,278.96 L658.60,278.74 L659.00,278.57 L659.40,278.80 L659.80,279.16 L660.20,279.25 L660.60,279.14 L661.00,278.96 L661.40,278.84 L661.80,278.86 L662.20,278.95 L662.60,279.00 L663.00,279.11 L663.40,279.13 L663.80,278.97 L664.20,278.86 L664.60,278.84 L665.00,278.91 L665.40,278.89 L665.80,278.84 L666.20,278.97 L666.60,279.05 L667.00,278.90 L667.40,278.68 L667.80,278.64 L668.20,278.69 L668.60,278.65 L669.00,278.64 L669.40,278.75 L669.80,278.76 L670.20,278.71 L670.60,278.85 L671.00,278.85 L671.40,278.68 L671.80,278.86 L672.20,278.96 L672.60,278.72 L673.00,278.56 L673.40,278.49 L673.80,278.52 L674.20,278.57 L674.60,278.52 L675.00,278.40 L675.40,278.35 L675.80,278.37 L676.20,278.36 L676.60,278.37 L677.00,278.36 L677.40,278.33 L677.80,278.42 L678.20,278.38 L678.60,278.22 L679.00,278.30 L679.40,278.31 L679.80,278.19 L680.20,278.17 L680.60,278.22 L681.00,278.34 L681.40,278.38 L681.80,278.39 L682.20,278.46 L682.60,278.46 L683.00,278.56 L683.40,278.56 L683.80,278.44 L684.20,278.66 L684.60,278.78 L685.00,278.59 L685.40,278.51 L685.80,278.50 L686.20,278.47 L686.60,278.43 L687.00,278.46 L687.40,278.60 L687.80,278.65 L688.20,278.64 L688.60,278.75 L689.00,278.77 L689.40,278.61 L689.80,278.58 L690.20,278.78 L690.60,278.66 L691.00,278.26 L691.40,278.21 L691.80,278.45 L692.20,278.68 L692.60,278.72 L693.00,278.58 L693.40,278.58 L693.80,278.55 L694.20,278.45 L694.60,278.51 L695.00,278.55 L695.40,278.55 L695.80,278.48 L696.20,278.34 L696.60,278.36 L697.00,278.51 L697.40,278.57 L697.80,278.61 L698.20,278.67 L698.60,278.53 L699.00,278.39 L699.40,278.46 L699.80,278.55" fill="none" stroke="#f52020" stroke-width="0.95" stroke-linejoin="round"/>
<path d="M38.00,500.88 L38.40,500.88 L38.80,501.10 L39.20,501.38 L39.60,501.50 L40.00,501.39 L40.40,501.23 L40.80,501.29 L41.20,501.59 L41.60,501.76 L42.00,501.52 L42.40,501.23 L42.80,501.36 L43.20,501.67 L43.60,501.51 L44.00,501.25 L44.40,501.27 L44.80,501.27 L45.20,501.28 L45.60,501.31 L46.00,501.36 L46.40,501.46 L46.80,501.38 L47.20,501.29 L47.60,501.38 L48.00,501.28 L48.40,500.99 L48.80,500.91 L49.20,500.91 L49.60,500.85 L50.00,500.80 L50.40,500.87 L50.80,500.90 L51.20,500.77 L51.60,500.66 L52.00,500.62 L52.40,500.51 L52.80,500.50 L53.20,500.59 L53.60,500.63 L54.00,500.80 L54.40,500.64 L54.80,500.31 L55.20,500.27 L55.60,500.19 L56.00,500.09 L56.40,499.81 L56.80,499.41 L57.20,499.28 L57.60,499.25 L58.00,499.04 L58.40,498.72 L58.80,498.48 L59.20,498.17 L59.60,497.86 L60.00,497.75 L60.40,497.69 L60.80,497.55 L61.20,497.27 L61.60,496.77 L62.00,496.22 L62.40,495.62 L62.80,494.85 L63.20,494.24 L63.60,493.45 L64.00,492.04 L64.40,490.43 L64.80,488.86 L65.20,487.27 L65.60,485.53 L66.00,483.78 L66.40,482.00 L66.80,479.97 L67.20,477.81 L67.60,475.52 L68.00,472.90 L68.40,470.25 L68.80,467.79 L69.20,465.15 L69.60,462.29 L70.00,459.74 L70.40,457.84 L70.80,456.19 L71.20,454.61 L71.60,453.54 L72.00,452.76 L72.40,451.95 L72.80,451.58 L73.20,451.80 L73.60,452.37 L74.00,453.36 L74.40,454.41 L74.80,455.59 L75.20,456.97 L75.60,458.46 L76.00,459.95 L76.40,461.34 L76.80,462.61 L77.20,463.87 L77.60,465.23 L78.00,466.76 L78.40,468.43 L78.80,470.14 L79.20,471.77 L79.60,473.53 L80.00,475.44 L80.40,477.05 L80.80,478.75 L81.20,480.76 L81.60,482.29 L82.00,483.42 L82.40,484.42 L82.80,484.91 L83.20,485.22 L83.60,485.55 L84.00,485.91 L84.40,486.36 L84.80,486.62 L85.20,486.56 L85.60,486.64 L86.00,486.63 L86.40,486.33 L86.80,486.21 L87.20,486.13 L87.60,485.95 L88.00,485.98 L88.40,486.24 L88.80,486.45 L89.20,486.56 L89.60,486.83 L90.00,487.16 L90.40,487.40 L90.80,487.61 L91.20,487.75 L91.60,487.99 L92.00,488.28 L92.40,488.35 L92.80,488.40 L93.20,488.50 L93.60,488.48 L94.00,488.64 L94.40,488.91 L94.80,489.07 L95.20,489.06 L95.60,488.74 L96.00,488.59 L96.40,488.83 L96.80,488.68 L97.20,488.34 L97.60,488.29 L98.00,487.97 L98.40,487.52 L98.80,487.34 L99.20,487.26 L99.60,486.94 L100.00,486.18 L100.40,484.52 L100.80,481.61 L101.20,477.85 L101.60,472.00 L102.00,464.97 L102.40,459.61 L102.80,454.44 L103.20,451.82 L103.60,454.17 L104.00,459.35 L104.40,464.51 L104.80,470.61 L105.20,475.85 L105.60,479.90 L106.00,482.50 L106.40,482.51 L106.80,481.56 L107.20,479.99 L107.60,478.47 L108.00,477.51 L108.40,476.92 L108.80,476.66 L109.20,476.57 L109.60,476.48 L110.00,476.62 L110.40,476.94 L110.80,477.03 L111.20,476.96 L111.60,477.35 L112.00,477.76 L112.40,476.11 L112.80,472.43 L113.20,468.00 L113.60,460.45 L114.00,450.05 L114.40,440.21 L114.80,430.60 L115.20,426.63 L115.60,424.90 L116.00,424.99 L116.40,426.67 L116.80,430.08 L117.20,438.41 L117.60,447.04 L118.00,454.94 L118.40,460.85 L118.80,465.26 L119.20,468.91 L119.60,471.74 L120.00,474.02 L120.40,476.21 L120.80,478.12 L121.20,479.65 L121.60,481.32 L122.00,483.09 L122.40,484.50 L122.80,485.58 L123.20,486.67 L123.60,487.75 L124.00,488.65 L124.40,489.49 L124.80,490.39 L125.20,491.41 L125.60,492.65 L126.00,493.85 L126.40,494.70 L126.80,495.62 L127.20,496.46 L127.60,497.06 L128.00,497.48 L128.40,497.70 L128.80,498.26 L129.20,498.69 L129.60,498.71 L130.00,499.14 L130.40,499.76 L130.80,499.92 L131.20,499.97 L131.60,500.18 L132.00,500.44 L132.40,500.72 L132.80,500.81 L133.20,500.74 L133.60,500.75 L134.00,500.99 L134.40,501.23 L134.80,501.26 L135.20,501.22 L135.60,501.09 L136.00,500.95 L136.40,501.10 L136.80,501.35 L137.20,501.34 L137.60,501.13 L138.00,501.11 L138.40,501.31 L138.80,501.40 L139.20,501.38 L139.60,501.44 L140.00,501.54 L140.40,501.62 L140.80,501.66 L141.20,501.64 L141.60,501.53 L142.00,501.23 L142.40,500.85 L142.80,500.63 L143.20,500.43 L143.60,500.14 L144.00,499.96 L144.40,499.66 L144.80,499.01 L145.20,498.55 L145.60,498.22 L146.00,497.48 L146.40,496.35 L146.80,495.24 L147.20,494.35 L147.60,493.26 L148.00,492.01 L148.40,490.95 L148.80,489.96 L149.20,488.92 L149.60,487.81 L150.00,486.91 L150.40,486.04 L150.80,484.94 L151.20,484.13 L151.60,483.92 L152.00,484.34 L152.40,485.42 L152.80,486.51 L153.20,487.40 L153.60,488.48 L154.00,489.74 L154.40,491.15 L154.80,492.36 L155.20,493.44 L155.60,494.55 L156.00,495.54 L156.40,496.07 L156.80,496.17 L157.20,496.43 L157.60,496.86 L158.00,497.14 L158.40,497.45 L158.80,497.58 L159.20,497.58 L159.60,497.78 L160.00,498.13 L160.40,498.33 L160.80,498.41 L161.20,498.70 L161.60,498.90 L162.00,498.67 L162.40,498.46 L162.80,498.47 L163.20,498.58 L163.60,498.74 L164.00,498.82 L164.40,498.94 L164.80,499.01 L165.20,498.84 L165.60,499.12 L166.00,499.71 L166.40,499.83 L166.80,499.74 L167.20,499.85 L167.60,500.00 L168.00,499.94 L168.40,499.73 L168.80,499.65 L169.20,499.73 L169.60,499.77 L170.00,499.79 L170.40,499.89 L170.80,500.03 L171.20,500.19 L171.60,500.24 L172.00,500.14 L172.40,500.36 L172.80,500.67 L173.20,500.70 L173.60,500.79 L174.00,500.93 L174.40,500.97 L174.80,500.79 L175.20,500.57 L175.60,500.62 L176.00,500.65 L176.40,500.60 L176.80,500.67 L177.20,500.65 L177.60,500.72 L178.00,501.00 L178.40,501.09 L178.80,501.00 L179.20,500.99 L179.60,501.08 L180.00,501.17 L180.40,501.24 L180.80,501.30 L181.20,501.36 L181.60,501.50 L182.00,501.60 L182.40,501.53 L182.80,501.39 L183.20,501.43 L183.60,501.56 L184.00,501.58 L184.40,501.40 L184.80,501.05 L185.20,501.08 L185.60,501.54 L186.00,501.87 L186.40,502.00 L186.80,501.96 L187.20,501.83 L187.60,501.67 L188.00,501.62 L188.40,501.76 L188.80,501.80 L189.20,501.84 L189.60,501.89 L190.00,501.92 L190.40,501.91 L190.80,501.75 L191.20,501.61 L191.60,501.57 L192.00,501.73 L192.40,501.89 L192.80,501.82 L193.20,501.83 L193.60,501.84 L194.00,501.75 L194.40,501.57 L194.80,501.35 L195.20,501.45 L195.60,501.49 L196.00,501.22 L196.40,501.03 L196.80,500.97 L197.20,500.82 L197.60,500.67 L198.00,500.55 L198.40,500.06 L198.80,499.64 L199.20,499.63 L199.60,499.36 L200.00,498.86 L200.40,498.40 L200.80,497.94 L201.20,497.66 L201.60,497.57 L202.00,497.46 L202.40,497.26 L202.80,496.95 L203.20,496.68 L203.60,496.64 L204.00,496.73 L204.40,496.58 L204.80,496.13 L205.20,495.87 L205.60,495.76 L206.00,495.42 L206.40,494.79 L206.80,494.08 L207.20,493.50 L207.60,492.76 L208.00,491.87 L208.40,491.38 L208.80,491.97 L209.20,493.36 L209.60,494.68 L210.00,495.85 L210.40,497.42 L210.80,498.47 L211.20,498.60 L211.60,498.95 L212.00,499.28 L212.40,499.42 L212.80,499.64 L213.20,499.85 L213.60,500.08 L214.00,500.18 L214.40,500.30 L214.80,500.52 L215.20,500.55 L215.60,500.37 L216.00,500.07 L216.40,500.04 L216.80,500.25 L217.20,500.22 L217.60,500.05 L218.00,499.85 L218.40,499.61 L218.80,499.43 L219.20,499.30 L219.60,499.18 L220.00,498.93 L220.40,498.64 L220.80,498.59 L221.20,498.40 L221.60,497.84 L222.00,497.51 L222.40,497.38 L222.80,497.14 L223.20,496.91 L223.60,496.50 L224.00,496.02 L224.40,495.78 L224.80,495.54 L225.20,495.03 L225.60,494.32 L226.00,493.49 L226.40,492.71 L226.80,492.57 L227.20,493.04 L227.60,493.52 L228.00,494.02 L228.40,494.48 L228.80,494.85 L229.20,495.33 L229.60,495.78 L230.00,496.09 L230.40,496.09 L230.80,496.02 L231.20,495.94 L231.60,495.77 L232.00,495.71 L232.40,495.65 L232.80,495.59 L233.20,495.43 L233.60,495.00 L234.00,494.90 L234.40,495.28 L234.80,495.80 L235.20,496.29 L235.60,496.68 L236.00,497.00 L236.40,497.37 L236.80,497.96 L237.20,498.50 L237.60,498.86 L238.00,499.43 L238.40,500.15 L238.80,500.49 L239.20,500.58 L239.60,500.92 L240.00,501.20 L240.40,501.23 L240.80,501.33 L241.20,501.33 L241.60,501.26 L242.00,501.35 L242.40,501.34 L242.80,501.29 L243.20,501.53 L243.60,501.60 L244.00,501.26 L244.40,501.01 L244.80,501.28 L245.20,501.65 L245.60,501.61 L246.00,501.41 L246.40,501.31 L246.80,501.15 L247.20,501.14 L247.60,501.39 L248.00,501.40 L248.40,501.14 L248.80,501.14 L249.20,501.31 L249.60,501.46 L250.00,501.62 L250.40,501.79 L250.80,501.87 L251.20,501.86 L251.60,501.69 L252.00,501.38 L252.40,501.42 L252.80,501.65 L253.20,501.63 L253.60,501.38 L254.00,501.07 L254.40,501.13 L254.80,501.50 L255.20,501.58 L255.60,501.45 L256.00,501.28 L256.40,501.22 L256.80,501.48 L257.20,501.77 L257.60,501.78 L258.00,501.55 L258.40,501.31 L258.80,501.31 L259.20,501.61 L259.60,501.66 L260.00,501.39 L260.40,501.32 L260.80,501.28 L261.20,501.00 L261.60,500.79 L262.00,501.01 L262.40,501.14 L262.80,500.92 L263.20,500.65 L263.60,500.64 L264.00,501.05 L264.40,501.22 L264.80,501.04 L265.20,500.90 L265.60,500.84 L266.00,500.85 L266.40,500.83 L266.80,500.79 L267.20,500.79 L267.60,500.80 L268.00,500.57 L268.40,500.03 L268.80,499.61 L269.20,499.16 L269.60,498.50 L270.00,498.03 L270.40,497.73 L270.80,497.10 L271.20,496.38 L271.60,495.60 L272.00,494.41 L272.40,493.02 L272.80,491.48 L273.20,489.73 L273.60,487.58 L274.00,484.56 L274.40,481.24 L274.80,478.01 L275.20,475.41 L275.60,473.31 L276.00,471.34 L276.40,469.36 L276.80,467.58 L277.20,465.63 L277.60,463.46 L278.00,461.21 L278.40,458.67 L278.80,455.63 L279.20,452.22 L279.60,450.48 L280.00,451.73 L280.40,454.72 L280.80,457.89 L281.20,460.92 L281.60,464.48 L282.00,467.92 L282.40,471.03 L282.80,474.14 L283.20,476.93 L283.60,479.71 L284.00,482.32 L284.40,484.05 L284.80,485.05 L285.20,485.86 L285.60,486.61 L286.00,487.45 L286.40,487.96 L286.80,488.26 L287.20,488.60 L287.60,488.97 L288.00,489.27 L288.40,489.36 L288.80,489.35 L289.20,489.30 L289.60,489.40 L290.00,489.43 L290.40,489.52 L290.80,489.84 L291.20,490.08 L291.60,490.76 L292.00,492.13 L292.40,493.19 L292.80,493.67 L293.20,494.38 L293.60,495.29 L294.00,495.49 L294.40,495.55 L294.80,496.26 L295.20,497.09 L295.60,497.51 L296.00,497.85 L296.40,498.27 L296.80,498.53 L297.20,498.60 L297.60,498.83 L298.00,499.24 L298.40,499.52 L298.80,499.94 L299.20,500.40 L299.60,500.51 L300.00,500.54 L300.40,500.73 L300.80,501.00 L301.20,501.04 L301.60,500.93 L302.00,501.15 L302.40,501.42 L302.80,501.26 L303.20,500.92 L303.60,500.65 L304.00,500.47 L304.40,500.66 L304.80,500.90 L305.20,500.69 L305.60,500.39 L306.00,500.34 L306.40,500.37 L306.80,500.32 L307.20,500.18 L307.60,500.13 L308.00,500.31 L308.40,500.32 L308.80,500.00 L309.20,499.91 L309.60,499.91 L310.00,499.65 L310.40,499.55 L310.80,499.65 L311.20,499.69 L311.60,499.61 L312.00,499.57 L312.40,499.62 L312.80,499.49 L313.20,499.34 L313.60,499.55 L314.00,499.85 L314.40,499.95 L314.80,500.21 L315.20,500.52 L315.60,500.57 L316.00,500.49 L316.40,500.49 L316.80,500.59 L317.20,500.56 L317.60,500.68 L318.00,500.93 L318.40,501.09 L318.80,501.32 L319.20,501.34 L319.60,501.24 L320.00,501.44 L320.40,501.51 L320.80,501.28 L321.20,501.21 L321.60,501.39 L322.00,501.66 L322.40,501.84 L322.80,501.83 L323.20,501.78 L323.60,501.96 L324.00,502.31 L324.40,502.43 L324.80,502.24 L325.20,502.16 L325.60,502.37 L326.00,502.51 L326.40,502.63 L326.80,502.81 L327.20,502.67 L327.60,502.34 L328.00,502.38 L328.40,502.64 L328.80,502.69 L329.20,502.62 L329.60,502.44 L330.00,502.32 L330.40,502.53 L330.80,502.71 L331.20,502.50 L331.60,502.23 L332.00,502.21 L332.40,502.27 L332.80,502.40 L333.20,502.62 L333.60,502.68 L334.00,502.41 L334.40,502.20 L334.80,502.20 L335.20,502.17 L335.60,502.11 L336.00,502.12 L336.40,502.04 L336.80,501.98 L337.20,502.06 L337.60,501.99 L338.00,501.93 L338.40,502.01 L338.80,502.14 L339.20,502.30 L339.60,502.24 L340.00,502.02 L340.40,501.89 L340.80,501.97 L341.20,502.07 L341.60,502.04 L342.00,501.93 L342.40,501.78 L342.80,501.96 L343.20,502.19 L343.60,502.14 L344.00,502.12 L344.40,502.11 L344.80,501.90 L345.20,501.82 L345.60,502.05 L346.00,502.24 L346.40,502.16 L346.80,502.05 L347.20,502.09 L347.60,502.02 L348.00,501.66 L348.40,501.43 L348.80,501.55 L349.20,501.68 L349.60,501.73 L350.00,501.73 L350.40,501.83 L350.80,502.03 L351.20,502.07 L351.60,502.15 L352.00,502.24 L352.40,502.05 L352.80,502.03 L353.20,502.18" fill="none" stroke="#2a2af0" stroke-width="0.95" stroke-linejoin="round"/>
<path d="M38.00,625.74 L38.40,625.63 L38.80,625.28 L39.20,625.37 L39.60,625.67 L40.00,625.72 L40.40,625.69 L40.80,625.65 L41.20,625.54 L41.60,625.44 L42.00,625.30 L42.40,625.10 L42.80,625.09 L43.20,625.15 L43.60,625.18 L44.00,625.30 L44.40,625.40 L44.80,625.30 L45.20,625.14 L45.60,625.00 L46.00,624.75 L46.40,624.62 L46.80,624.69 L47.20,624.59 L47.60,624.29 L48.00,624.21 L48.40,624.28 L48.80,624.27 L49.20,624.26 L49.60,624.13 L50.00,623.91 L50.40,623.77 L50.80,623.61 L51.20,623.43 L51.60,623.25 L52.00,622.99 L52.40,622.73 L52.80,622.60 L53.20,622.51 L53.60,622.28 L54.00,622.12 L54.40,622.08 L54.80,621.80 L55.20,621.53 L55.60,621.52 L56.00,621.44 L56.40,621.20 L56.80,621.02 L57.20,620.78 L57.60,620.57 L58.00,620.66 L58.40,620.64 L58.80,620.40 L59.20,620.14 L59.60,619.85 L60.00,619.69 L60.40,619.76 L60.80,619.74 L61.20,619.56 L61.60,619.47 L62.00,619.38 L62.40,619.18 L62.80,619.07 L63.20,618.87 L63.60,618.55 L64.00,618.30 L64.40,618.07 L64.80,618.03 L65.20,617.94 L65.60,617.67 L66.00,617.51 L66.40,617.47 L66.80,617.41 L67.20,617.26 L67.60,617.10 L68.00,616.94 L68.40,616.65 L68.80,616.28 L69.20,615.80 L69.60,615.02 L70.00,613.95 L70.40,613.13 L70.80,612.35 L71.20,611.03 L71.60,609.94 L72.00,609.64 L72.40,609.87 L72.80,610.17 L73.20,610.37 L73.60,610.49 L74.00,610.28 L74.40,609.53 L74.80,608.60 L75.20,607.85 L75.60,607.13 L76.00,606.82 L76.40,607.38 L76.80,608.37 L77.20,609.38 L77.60,610.25 L78.00,611.12 L78.40,611.97 L78.80,612.89 L79.20,613.58 L79.60,613.71 L80.00,613.67 L80.40,612.87 L80.80,610.88 L81.20,608.24 L81.60,604.75 L82.00,598.48 L82.40,588.89 L82.80,573.78 L83.20,556.84 L83.60,554.66 L84.00,565.02 L84.40,573.16 L84.80,574.10 L85.20,571.91 L85.60,576.89 L86.00,584.99 L86.40,591.43 L86.80,597.56 L87.20,602.61 L87.60,606.79 L88.00,609.76 L88.40,612.37 L88.80,614.78 L89.20,615.78 L89.60,615.02 L90.00,613.09 L90.40,610.69 L90.80,607.61 L91.20,603.21 L91.60,600.19 L92.00,601.59 L92.40,604.35 L92.80,604.98 L93.20,597.19 L93.60,588.03 L94.00,583.93 L94.40,589.71 L94.80,596.59 L95.20,603.35 L95.60,608.96 L96.00,612.17 L96.40,614.97 L96.80,617.06 L97.20,618.35 L97.60,618.62 L98.00,618.09 L98.40,617.49 L98.80,616.86 L99.20,615.81 L99.60,614.85 L100.00,613.55 L100.40,611.81 L100.80,610.22 L101.20,609.29 L101.60,608.68 L102.00,608.08 L102.40,607.78 L102.80,608.24 L103.20,609.06 L103.60,609.91 L104.00,610.65 L104.40,611.55 L104.80,612.54 L105.20,613.24 L105.60,612.91 L106.00,610.47 L106.40,606.34 L106.80,599.52 L107.20,588.10 L107.60,574.36 L108.00,560.12 L108.40,548.69 L108.80,542.60 L109.20,549.03 L109.60,560.05 L110.00,569.63 L110.40,578.46 L110.80,584.85 L111.20,589.48 L111.60,591.64 L112.00,593.26 L112.40,595.60 L112.80,598.66 L113.20,602.10 L113.60,606.34 L114.00,611.17 L114.40,615.76 L114.80,618.87 L115.20,619.87 L115.60,620.50 L116.00,621.08 L116.40,621.39 L116.80,621.59 L117.20,621.94 L117.60,622.19 L118.00,622.37 L118.40,622.67 L118.80,622.96 L119.20,623.15 L119.60,623.21 L120.00,623.30 L120.40,623.62 L120.80,624.08 L121.20,624.40 L121.60,624.53 L122.00,624.59 L122.40,624.57 L122.80,624.39 L123.20,624.17 L123.60,624.16 L124.00,624.12 L124.40,623.92 L124.80,623.86 L125.20,623.91 L125.60,623.68 L126.00,623.39 L126.40,623.30 L126.80,623.01 L127.20,622.57 L127.60,622.22 L128.00,621.77 L128.40,621.30 L128.80,621.22 L129.20,621.40 L129.60,621.57 L130.00,621.73 L130.40,622.01 L130.80,622.53 L131.20,623.21 L131.60,623.70 L132.00,623.87 L132.40,624.15 L132.80,624.61 L133.20,624.85 L133.60,624.94 L134.00,625.07 L134.40,625.36 L134.80,625.70 L135.20,625.69 L135.60,625.43 L136.00,625.42 L136.40,625.73 L136.80,625.88 L137.20,625.80 L137.60,625.56 L138.00,625.24 L138.40,625.26 L138.80,625.47 L139.20,625.52 L139.60,625.48 L140.00,625.41 L140.40,625.42 L140.80,625.50 L141.20,625.45 L141.60,625.40 L142.00,625.39 L142.40,625.37 L142.80,625.39 L143.20,625.19 L143.60,624.80 L144.00,624.60 L144.40,624.56 L144.80,624.45 L145.20,624.27 L145.60,624.23 L146.00,624.17 L146.40,623.87 L146.80,623.48 L147.20,623.14 L147.60,622.86 L148.00,622.69 L148.40,622.35 L148.80,621.78 L149.20,621.42 L149.60,621.22 L150.00,621.08 L150.40,620.99 L150.80,620.78 L151.20,620.56 L151.60,620.58 L152.00,620.83 L152.40,621.01 L152.80,621.17 L153.20,621.23 L153.60,621.21 L154.00,621.44 L154.40,621.90 L154.80,622.33 L155.20,622.60 L155.60,622.81 L156.00,622.95 L156.40,623.00 L156.80,623.00 L157.20,622.76 L157.60,622.42 L158.00,622.42 L158.40,622.41 L158.80,622.15 L159.20,622.06 L159.60,621.85 L160.00,621.36 L160.40,620.94 L160.80,620.62 L161.20,620.28 L161.60,619.67 L162.00,618.94 L162.40,618.32 L162.80,617.62 L163.20,616.86 L163.60,616.14 L164.00,615.33 L164.40,614.59 L164.80,614.16 L165.20,613.64 L165.60,612.73 L166.00,611.78 L166.40,611.06 L166.80,610.27 L167.20,609.09 L167.60,607.81 L168.00,606.89 L168.40,606.89 L168.80,607.99 L169.20,609.68 L169.60,611.25 L170.00,612.70 L170.40,614.74 L170.80,617.15 L171.20,619.00 L171.60,620.23 L172.00,620.99 L172.40,621.20 L172.80,621.02 L173.20,620.58 L173.60,620.13 L174.00,619.88 L174.40,619.66 L174.80,619.37 L175.20,618.60 L175.60,617.47 L176.00,616.26 L176.40,615.09 L176.80,614.44 L177.20,614.64 L177.60,615.69 L178.00,617.22 L178.40,618.84 L178.80,620.11 L179.20,621.52 L179.60,622.87 L180.00,623.53 L180.40,623.69 L180.80,624.04 L181.20,624.56 L181.60,624.72 L182.00,624.74 L182.40,625.08 L182.80,625.31 L183.20,625.33 L183.60,625.59 L184.00,625.85 L184.40,625.83 L184.80,625.85 L185.20,625.89 L185.60,625.71 L186.00,625.59 L186.40,625.68 L186.80,625.93 L187.20,626.04 L187.60,625.86 L188.00,625.78 L188.40,625.86 L188.80,625.86 L189.20,625.77 L189.60,625.56 L190.00,625.32 L190.40,625.10 L190.80,624.81 L191.20,624.41 L191.60,624.21 L192.00,624.33 L192.40,624.11 L192.80,623.08 L193.20,621.86 L193.60,621.04 L194.00,620.21 L194.40,619.22 L194.80,618.62 L195.20,618.39 L195.60,618.50 L196.00,619.24 L196.40,620.25 L196.80,621.01 L197.20,621.88 L197.60,622.86 L198.00,623.32 L198.40,623.50 L198.80,624.00 L199.20,624.37 L199.60,624.37 L200.00,624.29 L200.40,624.23 L200.80,624.43 L201.20,624.83 L201.60,624.99 L202.00,624.89 L202.40,624.72 L202.80,624.63 L203.20,624.65 L203.60,624.79 L204.00,624.94 L204.40,624.91 L204.80,624.94 L205.20,625.11 L205.60,625.14 L206.00,625.08 L206.40,625.07 L206.80,624.91 L207.20,624.76 L207.60,624.84 L208.00,624.92 L208.40,624.95 L208.80,624.97 L209.20,625.02 L209.60,625.11 L210.00,625.07 L210.40,625.03 L210.80,625.00 L211.20,624.72 L211.60,624.33 L212.00,623.83 L212.40,623.20 L212.80,622.49 L213.20,621.75 L213.60,621.16 L214.00,620.64 L214.40,620.31 L214.80,620.43 L215.20,620.82 L215.60,621.29 L216.00,621.88 L216.40,622.48 L216.80,622.93 L217.20,623.23 L217.60,623.43 L218.00,623.74 L218.40,624.26 L218.80,624.77 L219.20,624.87 L219.60,624.65 L220.00,624.73 L220.40,624.73 L220.80,624.40 L221.20,624.28 L221.60,624.35 L222.00,624.12 L222.40,623.85 L222.80,623.84 L223.20,623.70 L223.60,623.30 L224.00,622.88 L224.40,622.66 L224.80,622.40 L225.20,621.83 L225.60,621.10 L226.00,620.43 L226.40,619.82 L226.80,619.05 L227.20,618.13 L227.60,617.22 L228.00,616.71 L228.40,616.99 L228.80,617.72 L229.20,618.90 L229.60,620.22 L230.00,621.95 L230.40,623.72 L230.80,624.44 L231.20,624.52 L231.60,624.57 L232.00,624.78 L232.40,624.89 L232.80,624.84 L233.20,624.89 L233.60,624.77 L234.00,624.43 L234.40,624.16 L234.80,624.25 L235.20,624.57 L235.60,624.63 L236.00,624.54 L236.40,624.63 L236.80,624.69 L237.20,624.48 L237.60,624.29 L238.00,624.35 L238.40,624.51 L238.80,624.66 L239.20,624.65 L239.60,624.53 L240.00,624.52 L240.40,624.56 L240.80,624.65 L241.20,624.81 L241.60,624.79 L242.00,624.57 L242.40,624.44 L242.80,624.43 L243.20,624.46 L243.60,624.50 L244.00,624.51 L244.40,624.45 L244.80,624.35 L245.20,624.38 L245.60,624.68 L246.00,624.94 L246.40,624.85 L246.80,624.73 L247.20,624.67 L247.60,624.72 L248.00,624.81 L248.40,624.62 L248.80,624.37 L249.20,624.39 L249.60,624.48 L250.00,624.42 L250.40,624.36 L250.80,624.32 L251.20,624.33 L251.60,624.33 L252.00,624.39 L252.40,624.40 L252.80,624.04 L253.20,623.91 L253.60,624.13 L254.00,624.13 L254.40,624.01 L254.80,623.95 L255.20,623.88 L255.60,623.81 L256.00,623.74 L256.40,623.60 L256.80,623.40 L257.20,623.29 L257.60,623.18 L258.00,622.98 L258.40,622.88 L258.80,622.77 L259.20,622.53 L259.60,622.23 L260.00,621.89 L260.40,621.66 L260.80,621.48 L261.20,621.24 L261.60,621.07 L262.00,620.86 L262.40,620.44 L262.80,620.12 L263.20,619.88 L263.60,619.57 L264.00,619.48 L264.40,619.40 L264.80,619.12 L265.20,618.84 L265.60,618.64 L266.00,618.41 L266.40,618.07 L266.80,617.47 L267.20,616.86 L267.60,616.73 L268.00,616.65 L268.40,616.19 L268.80,615.75 L269.20,615.36 L269.60,614.79 L270.00,614.17 L270.40,613.50 L270.80,612.74 L271.20,612.20 L271.60,611.89 L272.00,611.64 L272.40,611.54 L272.80,611.50 L273.20,611.51 L273.60,611.60 L274.00,611.51 L274.40,611.37 L274.80,611.43 L275.20,611.79 L275.60,612.15 L276.00,612.30 L276.40,612.44 L276.80,612.45 L277.20,611.70 L277.60,610.22 L278.00,608.34 L278.40,606.35 L278.80,604.08 L279.20,601.39 L279.60,598.34 L280.00,594.55 L280.40,591.24 L280.80,587.97 L281.20,585.74 L281.60,586.95 L282.00,591.40 L282.40,596.27 L282.80,602.55 L283.20,607.90 L283.60,609.15 L284.00,609.47 L284.40,609.71 L284.80,609.85 L285.20,610.06 L285.60,610.34 L286.00,610.73 L286.40,611.48 L286.80,612.47 L287.20,613.46 L287.60,614.20 L288.00,614.93 L288.40,616.17 L288.80,617.53 L289.20,618.62 L289.60,619.61 L290.00,620.38 L290.40,620.94 L290.80,621.12 L291.20,620.66 L291.60,620.09 L292.00,619.72 L292.40,619.19 L292.80,618.50 L293.20,617.66 L293.60,616.76 L294.00,616.07 L294.40,615.96 L294.80,616.24 L295.20,616.77 L295.60,617.64 L296.00,618.48 L296.40,619.12 L296.80,619.83 L297.20,620.51 L297.60,621.23 L298.00,621.72 L298.40,621.74 L298.80,621.77 L299.20,621.95 L299.60,621.96 L300.00,622.00 L300.40,621.97 L300.80,621.76 L301.20,621.63 L301.60,621.46 L302.00,621.29 L302.40,621.24 L302.80,621.19 L303.20,621.10 L303.60,620.99 L304.00,620.96 L304.40,620.85 L304.80,620.74 L305.20,620.93 L305.60,621.28 L306.00,621.53 L306.40,621.65 L306.80,621.84 L307.20,621.93 L307.60,622.01 L308.00,622.39 L308.40,622.75 L308.80,622.98 L309.20,623.28 L309.60,623.52 L310.00,623.66 L310.40,623.80 L310.80,624.04 L311.20,624.32 L311.60,624.41 L312.00,624.46 L312.40,624.69 L312.80,624.98 L313.20,625.17 L313.60,625.11 L314.00,625.00 L314.40,624.98 L314.80,624.88 L315.20,624.87 L315.60,625.07 L316.00,625.33 L316.40,625.36 L316.80,625.23 L317.20,625.22 L317.60,625.33 L318.00,625.32 L318.40,625.37 L318.80,625.43 L319.20,625.36 L319.60,625.24 L320.00,625.15 L320.40,625.18 L320.80,625.20 L321.20,625.33 L321.60,625.47 L322.00,625.61 L322.40,625.57 L322.80,625.28 L323.20,625.30 L323.60,625.46 L324.00,625.53 L324.40,625.54 L324.80,625.46 L325.20,625.37 L325.60,625.37 L326.00,625.38 L326.40,625.38 L326.80,625.49 L327.20,625.52 L327.60,625.44 L328.00,625.41 L328.40,625.47 L328.80,625.55 L329.20,625.66 L329.60,625.67 L330.00,625.52 L330.40,625.50 L330.80,625.63 L331.20,625.62 L331.60,625.47 L332.00,625.50 L332.40,625.47 L332.80,625.34 L333.20,625.35 L333.60,625.47 L334.00,625.55 L334.40,625.52 L334.80,625.55 L335.20,625.56 L335.60,625.46 L336.00,625.29 L336.40,625.32 L336.80,625.42 L337.20,625.31 L337.60,625.26 L338.00,625.46 L338.40,625.61 L338.80,625.55 L339.20,625.51 L339.60,625.52 L340.00,625.54 L340.40,625.67 L340.80,625.63 L341.20,625.48 L341.60,625.60 L342.00,625.68 L342.40,625.63 L342.80,625.70 L343.20,625.85 L343.60,625.94 L344.00,625.82 L344.40,625.67 L344.80,625.56 L345.20,625.44 L345.60,625.57 L346.00,625.72 L346.40,625.62 L346.80,625.55 L347.20,625.72 L347.60,625.78 L348.00,625.53 L348.40,625.37 L348.80,625.41 L349.20,625.33 L349.60,625.22 L350.00,625.47 L350.40,625.67 L350.80,625.45 L351.20,625.39 L351.60,625.57 L352.00,625.58 L352.40,625.38 L352.80,625.38 L353.20,625.55" fill="none" stroke="#f52020" stroke-width="0.95" stroke-linejoin="round"/>
<path d="M384.00,504.66 L384.40,504.69 L384.80,504.44 L385.20,504.21 L385.60,504.19 L386.00,504.29 L386.40,504.85 L386.80,505.21 L387.20,504.77 L387.60,504.61 L388.00,505.01 L388.40,505.14 L388.80,504.86 L389.20,504.62 L389.60,504.92 L390.00,505.00 L390.40,504.57 L390.80,504.27 L391.20,504.04 L391.60,503.92 L392.00,504.16 L392.40,504.50 L392.80,504.73 L393.20,505.12 L393.60,505.33 L394.00,504.78 L394.40,504.24 L394.80,504.66 L395.20,505.27 L395.60,505.14 L396.00,504.78 L396.40,504.79 L396.80,504.85 L397.20,505.18 L397.60,505.58 L398.00,505.38 L398.40,505.50 L398.80,505.72 L399.20,505.41 L399.60,505.32 L400.00,505.43 L400.40,505.13 L400.80,504.79 L401.20,505.18 L401.60,505.24 L402.00,504.72 L402.40,504.82 L402.80,504.72 L403.20,504.66 L403.60,505.15 L404.00,504.69 L404.40,503.85 L404.80,503.96 L405.20,504.15 L405.60,504.04 L406.00,504.00 L406.40,503.95 L406.80,504.15 L407.20,504.11 L407.60,503.55 L408.00,503.28 L408.40,503.23 L408.80,503.00 L409.20,502.65 L409.60,502.62 L410.00,502.99 L410.40,503.41 L410.80,503.14 L411.20,502.24 L411.60,502.12 L412.00,502.13 L412.40,501.57 L412.80,501.58 L413.20,502.12 L413.60,502.45 L414.00,502.17 L414.40,501.55 L414.80,501.24 L415.20,501.49 L415.60,501.71 L416.00,501.23 L416.40,500.95 L416.80,501.06 L417.20,500.92 L417.60,500.57 L418.00,500.36 L418.40,500.47 L418.80,500.76 L419.20,501.12 L419.60,501.04 L420.00,500.74 L420.40,500.60 L420.80,500.53 L421.20,500.58 L421.60,500.46 L422.00,500.04 L422.40,499.66 L422.80,499.44 L423.20,498.81 L423.60,498.51 L424.00,498.87 L424.40,499.05 L424.80,499.59 L425.20,499.86 L425.60,498.99 L426.00,498.49 L426.40,498.73 L426.80,498.69 L427.20,498.30 L427.60,498.12 L428.00,498.18 L428.40,497.73 L428.80,496.99 L429.20,496.74 L429.60,496.38 L430.00,495.81 L430.40,495.41 L430.80,494.87 L431.20,494.28 L431.60,493.29 L432.00,491.96 L432.40,490.87 L432.80,489.69 L433.20,488.24 L433.60,487.19 L434.00,485.41 L434.40,481.55 L434.80,477.59 L435.20,473.09 L435.60,470.92 L436.00,470.62 L436.40,470.57 L436.80,470.10 L437.20,469.45 L437.60,468.75 L438.00,465.67 L438.40,461.12 L438.80,456.82 L439.20,452.32 L439.60,449.10 L440.00,446.61 L440.40,444.78 L440.80,445.57 L441.20,448.98 L441.60,452.06 L442.00,454.93 L442.40,457.98 L442.80,460.64 L443.20,463.24 L443.60,465.83 L444.00,468.62 L444.40,471.86 L444.80,475.19 L445.20,478.38 L445.60,481.63 L446.00,484.61 L446.40,487.21 L446.80,489.93 L447.20,492.04 L447.60,492.80 L448.00,493.51 L448.40,495.00 L448.80,495.88 L449.20,495.99 L449.60,496.50 L450.00,496.82 L450.40,496.96 L450.80,497.43 L451.20,497.35 L451.60,496.75 L452.00,496.39 L452.40,496.34 L452.80,496.43 L453.20,496.87 L453.60,497.49 L454.00,498.71 L454.40,500.05 L454.80,500.45 L455.20,500.77 L455.60,501.13 L456.00,501.28 L456.40,501.74 L456.80,502.29 L457.20,502.45 L457.60,502.57 L458.00,503.03 L458.40,503.49 L458.80,503.53 L459.20,503.20 L459.60,502.69 L460.00,502.69 L460.40,503.46 L460.80,503.73 L461.20,503.48 L461.60,503.61 L462.00,503.87 L462.40,503.97 L462.80,503.78 L463.20,503.68 L463.60,503.66 L464.00,503.42 L464.40,503.64 L464.80,504.00 L465.20,504.29 L465.60,504.68 L466.00,504.26 L466.40,503.12 L466.80,502.91 L467.20,503.43 L467.60,503.42 L468.00,503.63 L468.40,503.70 L468.80,502.86 L469.20,502.68 L469.60,503.46 L470.00,503.79 L470.40,503.71 L470.80,503.61 L471.20,503.22 L471.60,503.08 L472.00,503.33 L472.40,503.17 L472.80,503.19 L473.20,503.78 L473.60,504.08 L474.00,503.91 L474.40,503.55 L474.80,503.37 L475.20,503.35 L475.60,503.55 L476.00,503.81 L476.40,503.88 L476.80,504.14 L477.20,504.68 L477.60,504.68 L478.00,504.16 L478.40,504.21 L478.80,504.30 L479.20,503.89 L479.60,503.57 L480.00,503.91 L480.40,504.41 L480.80,504.38 L481.20,504.23 L481.60,504.41 L482.00,504.69 L482.40,504.13 L482.80,503.40 L483.20,503.34 L483.60,502.93 L484.00,502.75 L484.40,503.90 L484.80,504.90 L485.20,504.57 L485.60,503.96 L486.00,504.24 L486.40,504.93 L486.80,505.02 L487.20,504.89 L487.60,504.97 L488.00,505.25 L488.40,505.63 L488.80,505.73 L489.20,505.41 L489.60,505.22 L490.00,505.37 L490.40,505.53 L490.80,505.50 L491.20,505.12 L491.60,505.06 L492.00,505.00 L492.40,505.01 L492.80,505.77 L493.20,505.78 L493.60,505.13 L494.00,505.05 L494.40,504.46 L494.80,503.69 L495.20,504.04 L495.60,504.36 L496.00,504.01 L496.40,503.61 L496.80,503.56 L497.20,503.84 L497.60,504.04 L498.00,503.74 L498.40,503.56 L498.80,503.49 L499.20,502.85 L499.60,502.06 L500.00,502.00 L500.40,502.71 L500.80,502.92 L501.20,502.56 L501.60,502.16 L502.00,501.73 L502.40,501.38 L502.80,501.04 L503.20,500.81 L503.60,500.98 L504.00,501.19 L504.40,500.79 L504.80,500.07 L505.20,499.54 L505.60,499.64 L506.00,500.06 L506.40,499.79 L506.80,499.15 L507.20,498.58 L507.60,498.20 L508.00,498.41 L508.40,498.49 L508.80,497.99 L509.20,497.58 L509.60,497.44 L510.00,497.01 L510.40,496.47 L510.80,496.34 L511.20,496.51 L511.60,496.57 L512.00,496.39 L512.40,496.66 L512.80,496.85 L513.20,496.26 L513.60,495.96 L514.00,496.21 L514.40,496.17 L514.80,496.13 L515.20,496.89 L515.60,497.43 L516.00,496.99 L516.40,496.54 L516.80,496.59 L517.20,496.73 L517.60,496.52 L518.00,496.82 L518.40,497.43 L518.80,497.52 L519.20,498.01 L519.60,498.38 L520.00,498.08 L520.40,498.22 L520.80,498.31 L521.20,497.52 L521.60,496.57 L522.00,496.16 L522.40,496.46 L522.80,496.79 L523.20,496.14 L523.60,494.99 L524.00,494.41 L524.40,494.41 L524.80,494.39 L525.20,494.14 L525.60,493.92 L526.00,493.61 L526.40,493.13 L526.80,492.83 L527.20,492.55 L527.60,492.20 L528.00,492.19 L528.40,492.11 L528.80,491.29 L529.20,490.02 L529.60,489.13 L530.00,488.62 L530.40,487.71 L530.80,487.40 L531.20,487.86 L531.60,487.62 L532.00,486.51 L532.40,485.50 L532.80,485.04 L533.20,484.71 L533.60,484.53 L534.00,483.64 L534.40,481.27 L534.80,478.52 L535.20,476.35 L535.60,474.25 L536.00,471.65 L536.40,468.86 L536.80,466.11 L537.20,463.59 L537.60,461.85 L538.00,460.10 L538.40,457.93 L538.80,456.27 L539.20,455.42 L539.60,454.72 L540.00,454.04 L540.40,453.33 L540.80,452.33 L541.20,451.64 L541.60,450.78 L542.00,448.41 L542.40,445.36 L542.80,441.78 L543.20,437.60 L543.60,433.51 L544.00,429.76 L544.40,425.96 L544.80,422.46 L545.20,419.19 L545.60,416.85 L546.00,417.60 L546.40,422.62 L546.80,428.21 L547.20,432.51 L547.60,436.56 L548.00,439.16 L548.40,439.26 L548.80,438.26 L549.20,436.89 L549.60,435.93 L550.00,437.31 L550.40,441.53 L550.80,445.71 L551.20,449.77 L551.60,454.56 L552.00,460.10 L552.40,467.15 L552.80,474.73 L553.20,482.13 L553.60,487.02 L554.00,489.40 L554.40,490.77 L554.80,491.34 L555.20,492.28 L555.60,493.49 L556.00,494.52 L556.40,495.21 L556.80,495.82 L557.20,496.35 L557.60,496.56 L558.00,496.93 L558.40,497.84 L558.80,498.26 L559.20,498.09 L559.60,498.34 L560.00,498.57 L560.40,498.92 L560.80,499.53 L561.20,499.98 L561.60,500.28 L562.00,500.24 L562.40,500.34 L562.80,500.42 L563.20,500.54 L563.60,500.97 L564.00,501.23 L564.40,501.39 L564.80,501.22 L565.20,501.01 L565.60,501.33 L566.00,501.86 L566.40,501.98 L566.80,501.72 L567.20,501.48 L567.60,501.54 L568.00,501.88 L568.40,501.62 L568.80,501.42 L569.20,502.23 L569.60,502.56 L570.00,501.93 L570.40,501.72 L570.80,501.91 L571.20,502.16 L571.60,502.48 L572.00,502.39 L572.40,502.49 L572.80,502.79 L573.20,502.80 L573.60,502.77 L574.00,502.47 L574.40,502.03 L574.80,502.48 L575.20,503.38 L575.60,503.39 L576.00,503.16 L576.40,503.22 L576.80,503.24 L577.20,503.59 L577.60,503.73 L578.00,502.88 L578.40,502.23 L578.80,502.25 L579.20,502.59 L579.60,503.28 L580.00,503.31 L580.40,502.50 L580.80,502.13 L581.20,502.68 L581.60,502.66 L582.00,501.94 L582.40,502.02 L582.80,502.35 L583.20,502.36 L583.60,502.02 L584.00,501.61 L584.40,501.32 L584.80,501.65 L585.20,502.45 L585.60,502.36 L586.00,501.63 L586.40,500.94 L586.80,500.65 L587.20,500.99 L587.60,501.29 L588.00,501.23 L588.40,500.90 L588.80,500.58 L589.20,500.65 L589.60,500.94 L590.00,501.37 L590.40,501.27 L590.80,500.31 L591.20,499.62 L591.60,499.45 L592.00,499.14 L592.40,498.90 L592.80,498.74 L593.20,498.60 L593.60,498.70 L594.00,498.62 L594.40,498.37 L594.80,498.02 L595.20,497.55 L595.60,497.36 L596.00,497.38 L596.40,497.39 L596.80,497.41 L597.20,497.01 L597.60,496.50 L598.00,496.24 L598.40,495.73 L598.80,495.28 L599.20,494.60 L599.60,493.71 L600.00,493.48 L600.40,493.12 L600.80,492.24 L601.20,491.41 L601.60,490.61 L602.00,489.89 L602.40,489.32 L602.80,488.76 L603.20,487.92 L603.60,486.93 L604.00,486.19 L604.40,485.01 L604.80,483.08 L605.20,481.16 L605.60,479.12 L606.00,476.95 L606.40,475.13 L606.80,474.78 L607.20,475.71 L607.60,476.76 L608.00,476.92 L608.40,477.28 L608.80,477.77 L609.20,477.59 L609.60,476.30 L610.00,474.86 L610.40,474.35 L610.80,474.05 L611.20,472.99 L611.60,471.59 L612.00,471.11 L612.40,472.77 L612.80,473.65 L613.20,473.65 L613.60,474.27 L614.00,473.63 L614.40,471.70 L614.80,470.41 L615.20,469.80 L615.60,468.80 L616.00,468.56 L616.40,469.12 L616.80,468.98 L617.20,468.21 L617.60,467.27 L618.00,466.36 L618.40,466.28 L618.80,468.52 L619.20,472.41 L619.60,476.21 L620.00,480.72 L620.40,484.60 L620.80,486.44 L621.20,487.39 L621.60,487.93 L622.00,488.09 L622.40,487.71 L622.80,487.23 L623.20,486.78 L623.60,485.61 L624.00,484.14 L624.40,483.13 L624.80,482.15 L625.20,480.90 L625.60,479.75 L626.00,479.74 L626.40,481.83 L626.80,484.14 L627.20,487.02 L627.60,490.18 L628.00,490.92 L628.40,490.35 L628.80,489.52 L629.20,489.37 L629.60,488.81 L630.00,487.98 L630.40,488.64 L630.80,489.91 L631.20,490.94 L631.60,491.92 L632.00,492.30 L632.40,492.39 L632.80,492.85 L633.20,493.23 L633.60,493.20 L634.00,493.28 L634.40,493.44 L634.80,492.83 L635.20,491.38 L635.60,490.32 L636.00,489.98 L636.40,489.52 L636.80,488.78 L637.20,487.79 L637.60,486.32 L638.00,485.00 L638.40,484.01 L638.80,482.99 L639.20,481.26 L639.60,478.72 L640.00,476.73 L640.40,475.03 L640.80,472.63 L641.20,470.47 L641.60,468.97 L642.00,467.05 L642.40,464.64 L642.80,462.01 L643.20,459.98 L643.60,459.57 L644.00,462.69 L644.40,467.34 L644.80,471.90 L645.20,477.65 L645.60,483.09 L646.00,486.93 L646.40,488.15 L646.80,488.77 L647.20,489.59 L647.60,490.45 L648.00,491.06 L648.40,491.23 L648.80,491.82 L649.20,493.19 L649.60,494.34 L650.00,494.53 L650.40,494.18 L650.80,494.40 L651.20,494.77 L651.60,494.25 L652.00,493.77 L652.40,493.98 L652.80,493.92 L653.20,493.17 L653.60,492.46 L654.00,492.56 L654.40,492.89 L654.80,492.64 L655.20,492.42 L655.60,492.45 L656.00,492.14 L656.40,491.59 L656.80,490.95 L657.20,490.05 L657.60,489.06 L658.00,487.44 L658.40,485.07 L658.80,481.67 L659.20,477.94 L659.60,474.01 L660.00,470.42 L660.40,467.15 L660.80,463.56 L661.20,460.70 L661.60,459.19 L662.00,458.03 L662.40,455.66 L662.80,453.35 L663.20,452.78 L663.60,454.04 L664.00,457.06 L664.40,461.11 L664.80,466.80 L665.20,472.71 L665.60,477.72 L666.00,482.79 L666.40,488.11 L666.80,492.98 L667.20,495.29 L667.60,496.04 L668.00,496.62 L668.40,497.79 L668.80,498.79 L669.20,499.60 L669.60,500.30 L670.00,500.37 L670.40,500.63 L670.80,501.40 L671.20,501.74 L671.60,501.73 L672.00,501.78 L672.40,501.48 L672.80,501.48 L673.20,502.27 L673.60,502.75 L674.00,503.07 L674.40,503.20 L674.80,502.30 L675.20,501.43 L675.60,501.38 L676.00,501.57 L676.40,501.89 L676.80,501.86 L677.20,501.63 L677.60,501.77 L678.00,501.85 L678.40,502.11 L678.80,502.25 L679.20,502.13 L679.60,502.08 L680.00,501.93 L680.40,501.59 L680.80,501.47 L681.20,502.23 L681.60,503.25 L682.00,503.51 L682.40,503.15 L682.80,502.52 L683.20,502.27 L683.60,502.52 L684.00,502.34 L684.40,502.01 L684.80,502.00 L685.20,502.02 L685.60,501.99 L686.00,501.89 L686.40,501.79 L686.80,502.45 L687.20,503.24 L687.60,502.93 L688.00,502.69 L688.40,503.11 L688.80,503.11 L689.20,502.77 L689.60,503.11 L690.00,503.72 L690.40,503.80 L690.80,504.03 L691.20,504.25 L691.60,503.94 L692.00,503.81 L692.40,504.21 L692.80,504.31 L693.20,503.75 L693.60,503.72 L694.00,504.34 L694.40,504.91 L694.80,505.37 L695.20,505.21 L695.60,504.79 L696.00,505.02 L696.40,505.11 L696.80,505.11 L697.20,505.33 L697.60,504.90 L698.00,504.63 L698.40,504.95 L698.80,505.12 L699.20,505.53 L699.60,506.12" fill="none" stroke="#2a2af0" stroke-width="1.1" stroke-linejoin="round"/>
<path d="M384.00,629.84 L384.40,629.73 L384.80,629.79 L385.20,629.75 L385.60,629.65 L386.00,629.73 L386.40,629.87 L386.80,630.06 L387.20,630.21 L387.60,630.19 L388.00,630.03 L388.40,629.90 L388.80,629.99 L389.20,629.96 L389.60,629.74 L390.00,629.69 L390.40,629.77 L390.80,629.74 L391.20,629.52 L391.60,629.45 L392.00,629.55 L392.40,629.42 L392.80,629.25 L393.20,629.35 L393.60,629.40 L394.00,629.33 L394.40,629.34 L394.80,629.23 L395.20,629.19 L395.60,629.34 L396.00,629.11 L396.40,628.87 L396.80,629.19 L397.20,629.41 L397.60,629.36 L398.00,629.50 L398.40,629.45 L398.80,628.95 L399.20,628.59 L399.60,628.80 L400.00,629.07 L400.40,628.86 L400.80,628.58 L401.20,628.59 L401.60,628.72 L402.00,628.79 L402.40,628.83 L402.80,628.66 L403.20,628.31 L403.60,628.09 L404.00,627.96 L404.40,627.84 L404.80,627.61 L405.20,627.64 L405.60,627.85 L406.00,627.71 L406.40,627.68 L406.80,627.77 L407.20,627.48 L407.60,627.13 L408.00,626.93 L408.40,626.85 L408.80,626.85 L409.20,626.82 L409.60,626.75 L410.00,626.45 L410.40,626.14 L410.80,626.04 L411.20,625.97 L411.60,625.77 L412.00,625.39 L412.40,624.83 L412.80,624.50 L413.20,624.23 L413.60,623.73 L414.00,623.51 L414.40,623.52 L414.80,623.40 L415.20,623.23 L415.60,623.56 L416.00,624.34 L416.40,624.84 L416.80,625.06 L417.20,625.35 L417.60,625.69 L418.00,625.72 L418.40,625.46 L418.80,625.31 L419.20,625.26 L419.60,625.11 L420.00,624.82 L420.40,624.53 L420.80,624.45 L421.20,624.32 L421.60,624.04 L422.00,623.96 L422.40,623.87 L422.80,623.55 L423.20,623.25 L423.60,623.16 L424.00,623.02 L424.40,622.67 L424.80,622.47 L425.20,622.40 L425.60,622.25 L426.00,621.98 L426.40,621.83 L426.80,621.86 L427.20,621.48 L427.60,620.91 L428.00,620.70 L428.40,620.70 L428.80,620.49 L429.20,620.16 L429.60,619.91 L430.00,619.51 L430.40,619.23 L430.80,619.18 L431.20,618.81 L431.60,617.77 L432.00,616.39 L432.40,614.70 L432.80,612.56 L433.20,610.40 L433.60,608.33 L434.00,606.12 L434.40,603.32 L434.80,600.35 L435.20,597.59 L435.60,595.00 L436.00,592.31 L436.40,590.00 L436.80,588.99 L437.20,589.41 L437.60,590.36 L438.00,591.41 L438.40,592.29 L438.80,593.28 L439.20,594.26 L439.60,595.01 L440.00,595.83 L440.40,596.84 L440.80,597.51 L441.20,597.98 L441.60,598.86 L442.00,599.84 L442.40,600.66 L442.80,601.53 L443.20,602.56 L443.60,603.75 L444.00,604.77 L444.40,605.64 L444.80,606.43 L445.20,606.94 L445.60,607.64 L446.00,608.37 L446.40,608.82 L446.80,609.33 L447.20,609.90 L447.60,610.76 L448.00,611.75 L448.40,612.35 L448.80,613.11 L449.20,614.05 L449.60,614.50 L450.00,614.79 L450.40,614.93 L450.80,614.61 L451.20,614.22 L451.60,613.68 L452.00,612.98 L452.40,612.21 L452.80,611.70 L453.20,611.41 L453.60,611.59 L454.00,612.67 L454.40,613.87 L454.80,614.75 L455.20,615.85 L455.60,616.98 L456.00,617.97 L456.40,618.95 L456.80,619.80 L457.20,620.42 L457.60,620.93 L458.00,621.57 L458.40,622.22 L458.80,622.71 L459.20,623.21 L459.60,623.88 L460.00,624.49 L460.40,624.98 L460.80,625.38 L461.20,625.51 L461.60,625.41 L462.00,625.42 L462.40,625.66 L462.80,625.91 L463.20,626.10 L463.60,626.39 L464.00,626.52 L464.40,626.46 L464.80,626.48 L465.20,626.37 L465.60,626.17 L466.00,626.19 L466.40,626.21 L466.80,626.23 L467.20,626.54 L467.60,626.67 L468.00,626.40 L468.40,626.45 L468.80,626.70 L469.20,626.64 L469.60,626.48 L470.00,626.48 L470.40,626.57 L470.80,626.41 L471.20,625.86 L471.60,625.22 L472.00,624.95 L472.40,624.95 L472.80,624.79 L473.20,624.55 L473.60,623.98 L474.00,623.31 L474.40,623.10 L474.80,622.97 L475.20,622.75 L475.60,623.06 L476.00,623.59 L476.40,623.81 L476.80,624.38 L477.20,625.24 L477.60,625.63 L478.00,625.81 L478.40,626.29 L478.80,627.09 L479.20,627.76 L479.60,628.09 L480.00,628.34 L480.40,628.56 L480.80,628.53 L481.20,628.62 L481.60,628.85 L482.00,628.77 L482.40,628.79 L482.80,629.09 L483.20,629.24 L483.60,629.15 L484.00,629.03 L484.40,629.09 L484.80,629.40 L485.20,629.69 L485.60,629.73 L486.00,629.71 L486.40,629.81 L486.80,629.88 L487.20,630.02 L487.60,630.33 L488.00,630.55 L488.40,630.55 L488.80,630.53 L489.20,630.52 L489.60,630.54 L490.00,630.62 L490.40,630.78 L490.80,630.81 L491.20,630.71 L491.60,630.68 L492.00,630.61 L492.40,630.54 L492.80,630.45 L493.20,630.32 L493.60,630.34 L494.00,630.39 L494.40,630.34 L494.80,630.18 L495.20,629.93 L495.60,629.87 L496.00,629.82 L496.40,629.43 L496.80,629.26 L497.20,629.50 L497.60,629.60 L498.00,629.42 L498.40,629.45 L498.80,629.48 L499.20,629.21 L499.60,629.17 L500.00,629.23 L500.40,628.94 L500.80,628.78 L501.20,628.86 L501.60,628.87 L502.00,628.92 L502.40,628.69 L502.80,628.36 L503.20,628.38 L503.60,628.34 L504.00,628.23 L504.40,628.11 L504.80,627.69 L505.20,627.39 L505.60,627.35 L506.00,627.08 L506.40,626.51 L506.80,626.05 L507.20,625.62 L507.60,625.13 L508.00,624.73 L508.40,624.30 L508.80,623.91 L509.20,623.45 L509.60,622.75 L510.00,622.04 L510.40,621.36 L510.80,620.56 L511.20,619.35 L511.60,618.07 L512.00,616.96 L512.40,616.43 L512.80,616.65 L513.20,617.09 L513.60,617.83 L514.00,618.77 L514.40,620.20 L514.80,621.64 L515.20,622.03 L515.60,622.14 L516.00,621.89 L516.40,621.65 L516.80,621.61 L517.20,621.53 L517.60,621.61 L518.00,621.79 L518.40,621.75 L518.80,621.59 L519.20,621.37 L519.60,621.02 L520.00,620.71 L520.40,620.63 L520.80,620.65 L521.20,620.69 L521.60,620.62 L522.00,620.29 L522.40,620.03 L522.80,620.02 L523.20,619.70 L523.60,619.08 L524.00,618.66 L524.40,618.29 L524.80,617.78 L525.20,617.29 L525.60,616.78 L526.00,616.15 L526.40,615.37 L526.80,614.48 L527.20,614.01 L527.60,613.69 L528.00,612.95 L528.40,612.35 L528.80,611.95 L529.20,611.55 L529.60,611.49 L530.00,611.67 L530.40,611.72 L530.80,611.57 L531.20,611.54 L531.60,611.70 L532.00,611.75 L532.40,611.79 L532.80,611.97 L533.20,611.85 L533.60,611.27 L534.00,610.31 L534.40,609.20 L534.80,608.00 L535.20,606.58 L535.60,602.81 L536.00,597.19 L536.40,591.91 L536.80,587.30 L537.20,583.51 L537.60,579.74 L538.00,576.96 L538.40,575.26 L538.80,574.22 L539.20,574.06 L539.60,574.95 L540.00,576.29 L540.40,577.49 L540.80,579.12 L541.20,580.23 L541.60,579.59 L542.00,576.84 L542.40,573.13 L542.80,570.08 L543.20,567.84 L543.60,565.51 L544.00,563.88 L544.40,563.71 L544.80,564.81 L545.20,566.35 L545.60,568.40 L546.00,571.83 L546.40,576.00 L546.80,581.20 L547.20,586.81 L547.60,592.57 L548.00,598.68 L548.40,603.03 L548.80,605.88 L549.20,608.15 L549.60,610.58 L550.00,613.13 L550.40,615.32 L550.80,617.22 L551.20,618.79 L551.60,619.93 L552.00,620.42 L552.40,620.70 L552.80,620.93 L553.20,620.98 L553.60,621.10 L554.00,621.32 L554.40,621.61 L554.80,621.82 L555.20,621.86 L555.60,622.10 L556.00,622.44 L556.40,622.68 L556.80,622.79 L557.20,622.96 L557.60,623.38 L558.00,623.79 L558.40,623.97 L558.80,624.12 L559.20,624.22 L559.60,624.28 L560.00,624.57 L560.40,624.93 L560.80,625.16 L561.20,625.41 L561.60,625.78 L562.00,626.25 L562.40,626.56 L562.80,626.52 L563.20,626.72 L563.60,627.21 L564.00,627.43 L564.40,627.67 L564.80,628.10 L565.20,628.26 L565.60,628.33 L566.00,628.45 L566.40,628.63 L566.80,628.81 L567.20,629.06 L567.60,629.36 L568.00,629.26 L568.40,628.97 L568.80,628.92 L569.20,629.09 L569.60,629.22 L570.00,629.06 L570.40,628.87 L570.80,628.79 L571.20,628.87 L571.60,629.17 L572.00,629.26 L572.40,629.14 L572.80,629.05 L573.20,628.96 L573.60,629.02 L574.00,629.11 L574.40,629.05 L574.80,628.98 L575.20,628.90 L575.60,628.81 L576.00,628.79 L576.40,628.71 L576.80,628.55 L577.20,628.38 L577.60,628.15 L578.00,627.96 L578.40,627.97 L578.80,627.98 L579.20,627.90 L579.60,627.73 L580.00,627.44 L580.40,627.20 L580.80,627.06 L581.20,626.96 L581.60,626.75 L582.00,626.50 L582.40,626.21 L582.80,625.98 L583.20,625.76 L583.60,625.34 L584.00,625.23 L584.40,625.23 L584.80,624.92 L585.20,624.55 L585.60,623.99 L586.00,623.40 L586.40,623.15 L586.80,622.90 L587.20,622.39 L587.60,621.95 L588.00,621.53 L588.40,621.01 L588.80,620.66 L589.20,620.33 L589.60,620.18 L590.00,620.54 L590.40,620.89 L590.80,621.07 L591.20,621.32 L591.60,621.47 L592.00,621.65 L592.40,621.93 L592.80,622.09 L593.20,622.27 L593.60,622.32 L594.00,622.41 L594.40,622.70 L594.80,623.00 L595.20,623.18 L595.60,623.13 L596.00,623.10 L596.40,623.16 L596.80,623.27 L597.20,623.52 L597.60,623.59 L598.00,623.25 L598.40,622.85 L598.80,622.64 L599.20,622.32 L599.60,621.76 L600.00,621.33 L600.40,621.12 L600.80,620.56 L601.20,619.55 L601.60,618.51 L602.00,617.45 L602.40,615.95 L602.80,613.12 L603.20,609.85 L603.60,607.25 L604.00,604.67 L604.40,601.76 L604.80,598.57 L605.20,595.18 L605.60,592.51 L606.00,590.69 L606.40,589.27 L606.80,589.01 L607.20,590.96 L607.60,594.24 L608.00,597.65 L608.40,601.58 L608.80,604.87 L609.20,606.58 L609.60,607.74 L610.00,608.69 L610.40,609.49 L610.80,610.38 L611.20,611.24 L611.60,611.81 L612.00,612.34 L612.40,612.88 L612.80,613.18 L613.20,613.58 L613.60,614.27 L614.00,614.80 L614.40,615.11 L614.80,615.31 L615.20,615.49 L615.60,615.60 L616.00,615.71 L616.40,616.04 L616.80,616.52 L617.20,616.84 L617.60,617.01 L618.00,617.53 L618.40,618.24 L618.80,618.85 L619.20,619.48 L619.60,620.11 L620.00,620.47 L620.40,620.60 L620.80,620.73 L621.20,620.12 L621.60,618.74 L622.00,617.13 L622.40,615.76 L622.80,614.74 L623.20,613.72 L623.60,612.71 L624.00,611.90 L624.40,611.10 L624.80,610.18 L625.20,609.34 L625.60,608.78 L626.00,608.26 L626.40,607.73 L626.80,607.33 L627.20,606.66 L627.60,605.60 L628.00,604.50 L628.40,603.55 L628.80,602.88 L629.20,602.55 L629.60,602.76 L630.00,603.93 L630.40,605.49 L630.80,607.35 L631.20,609.75 L631.60,612.12 L632.00,614.12 L632.40,615.23 L632.80,615.87 L633.20,616.40 L633.60,616.76 L634.00,617.06 L634.40,617.67 L634.80,618.47 L635.20,619.00 L635.60,619.42 L636.00,620.10 L636.40,620.68 L636.80,620.96 L637.20,620.84 L637.60,620.16 L638.00,619.35 L638.40,618.58 L638.80,617.84 L639.20,616.95 L639.60,615.87 L640.00,615.08 L640.40,614.41 L640.80,613.66 L641.20,613.00 L641.60,612.43 L642.00,611.98 L642.40,611.31 L642.80,610.41 L643.20,609.88 L643.60,609.50 L644.00,608.90 L644.40,608.37 L644.80,607.70 L645.20,607.13 L645.60,606.75 L646.00,605.89 L646.40,604.83 L646.80,604.05 L647.20,603.40 L647.60,603.00 L648.00,603.13 L648.40,603.79 L648.80,604.73 L649.20,605.87 L649.60,607.18 L650.00,608.73 L650.40,610.09 L650.80,611.12 L651.20,612.26 L651.60,613.36 L652.00,614.19 L652.40,614.88 L652.80,615.71 L653.20,616.81 L653.60,617.74 L654.00,617.95 L654.40,617.91 L654.80,618.06 L655.20,618.33 L655.60,618.67 L656.00,618.68 L656.40,618.72 L656.80,619.18 L657.20,619.35 L657.60,619.44 L658.00,619.58 L658.40,619.23 L658.80,619.17 L659.20,619.47 L659.60,619.39 L660.00,619.07 L660.40,618.70 L660.80,618.16 L661.20,617.42 L661.60,616.72 L662.00,616.52 L662.40,616.76 L662.80,617.13 L663.20,617.71 L663.60,618.36 L664.00,619.05 L664.40,619.75 L664.80,620.34 L665.20,621.01 L665.60,621.84 L666.00,622.52 L666.40,622.93 L666.80,623.36 L667.20,623.73 L667.60,623.59 L668.00,623.42 L668.40,623.69 L668.80,624.26 L669.20,624.77 L669.60,624.74 L670.00,624.51 L670.40,624.49 L670.80,624.46 L671.20,624.63 L671.60,625.04 L672.00,625.16 L672.40,625.05 L672.80,625.15 L673.20,625.44 L673.60,625.55 L674.00,625.38 L674.40,625.43 L674.80,625.73 L675.20,625.71 L675.60,625.66 L676.00,625.98 L676.40,626.35 L676.80,626.53 L677.20,626.58 L677.60,626.62 L678.00,626.73 L678.40,626.89 L678.80,627.05 L679.20,627.36 L679.60,627.49 L680.00,627.43 L680.40,627.77 L680.80,628.12 L681.20,627.98 L681.60,627.92 L682.00,628.23 L682.40,628.55 L682.80,628.70 L683.20,628.66 L683.60,628.62 L684.00,628.77 L684.40,628.93 L684.80,628.98 L685.20,628.90 L685.60,628.76 L686.00,628.87 L686.40,629.15 L686.80,629.35 L687.20,629.37 L687.60,629.40 L688.00,629.49 L688.40,629.68 L688.80,629.80 L689.20,629.53 L689.60,629.55 L690.00,629.85 L690.40,629.82 L690.80,629.76 L691.20,629.76 L691.60,629.67 L692.00,629.69 L692.40,629.92 L692.80,630.11 L693.20,630.17 L693.60,630.19 L694.00,630.06 L694.40,629.83 L694.80,629.77 L695.20,629.81 L695.60,629.82 L696.00,630.08 L696.40,630.31 L696.80,630.17 L697.20,629.99 L697.60,629.85 L698.00,629.72 L698.40,629.93 L698.80,630.23 L699.20,630.27 L699.60,630.24" fill="none" stroke="#f52020" stroke-width="0.95" stroke-linejoin="round"/>
<text x="76.90" y="18.45" font-size="20" font-weight="bold" font-style="normal" fill="#141414" font-family="'Liberation Sans', sans-serif" >(a)</text>
<text x="108.53" y="19.50" font-size="23.5" font-weight="bold" font-style="normal" fill="#141414" font-family="'Liberation Sans', sans-serif" >H</text>
<text x="125.50" y="26.30" font-size="14.2" font-weight="bold" font-style="normal" fill="#141414" font-family="'Liberation Sans', sans-serif" >2</text>
<text x="133.04" y="19.55" font-size="23.5" font-weight="bold" font-style="normal" fill="#141414" font-family="'Liberation Sans', sans-serif" >O</text>
<text x="157.69" y="19.00" font-size="22.7" font-weight="normal" font-style="normal" fill="#141414" font-family="'Liberation Sans', sans-serif" >(</text>
<text x="165.81" y="19.70" font-size="23.5" font-weight="normal" font-style="italic" fill="#141414" font-family="'Liberation Sans', sans-serif" >C</text>
<text x="183.09" y="27.60" font-size="14.5" font-weight="normal" font-style="italic" fill="#141414" font-family="'Liberation Sans', sans-serif" >2v</text>
<text x="198.46" y="19.00" font-size="22.7" font-weight="normal" font-style="normal" fill="#141414" font-family="'Liberation Sans', sans-serif" >)</text>
<text x="306.60" y="18.45" font-size="20" font-weight="bold" font-style="normal" fill="#141414" font-family="'Liberation Sans', sans-serif" >(b)</text>
<text x="339.42" y="20.50" font-size="23.8" font-weight="bold" font-style="normal" fill="#141414" font-family="'Liberation Sans', sans-serif" >C</text>
<text x="355.32" y="20.50" font-size="23.8" font-weight="bold" font-style="normal" fill="#141414" font-family="'Liberation Sans', sans-serif" >O</text>
<text x="374.51" y="28.80" font-size="14.0" font-weight="bold" font-style="normal" fill="#141414" font-family="'Liberation Sans', sans-serif" >2</text>
<text x="388.31" y="20.30" font-size="22.5" font-weight="normal" font-style="normal" fill="#141414" font-family="'Liberation Sans', sans-serif" >(</text>
<text x="396.17" y="20.60" font-size="23.5" font-weight="normal" font-style="italic" fill="#141414" font-family="'Liberation Sans', sans-serif" >D</text>
<text x="413.66" y="28.90" font-size="12.6" font-weight="normal" font-style="italic" fill="#141414" font-family="'Liberation Sans', sans-serif" >∞</text>
<text x="421.59" y="28.10" font-size="12.6" font-weight="bold" font-style="italic" fill="#141414" font-family="'Liberation Sans', sans-serif" >h</text>
<text x="431.97" y="20.60" font-size="22.5" font-weight="normal" font-style="normal" fill="#141414" font-family="'Liberation Sans', sans-serif" >)</text>
<text x="549.60" y="18.45" font-size="20" font-weight="bold" font-style="normal" fill="#141414" font-family="'Liberation Sans', sans-serif" >(c)</text>
<text x="582.12" y="18.40" font-size="24" font-weight="bold" font-style="normal" fill="#141414" font-family="'Liberation Sans', sans-serif" >C</text>
<text x="598.29" y="18.35" font-size="24" font-weight="bold" font-style="normal" fill="#141414" font-family="'Liberation Sans', sans-serif" >H</text>
<text x="616.08" y="26.40" font-size="14.5" font-weight="bold" font-style="normal" fill="#141414" font-family="'Liberation Sans', sans-serif" >4</text>
<text x="629.84" y="18.50" font-size="23.5" font-weight="normal" font-style="normal" fill="#141414" font-family="'Liberation Sans', sans-serif" >(</text>
<text x="637.84" y="18.60" font-size="24" font-weight="normal" font-style="italic" fill="#141414" font-family="'Liberation Sans', sans-serif" >T</text>
<text x="652.01" y="26.60" font-size="14.3" font-weight="normal" font-style="italic" fill="#141414" font-family="'Liberation Sans', sans-serif" >d</text>
<text x="661.46" y="18.50" font-size="23.5" font-weight="normal" font-style="normal" fill="#141414" font-family="'Liberation Sans', sans-serif" >)</text>
<text x="109.39" y="364.50" font-size="20.3" font-weight="bold" font-style="normal" fill="#141414" font-family="'Liberation Sans', sans-serif" >(d)</text>
<text x="141.42" y="364.75" font-size="24" font-weight="bold" font-style="normal" fill="#141414" font-family="'Liberation Sans', sans-serif" >C</text>
<text x="158.19" y="364.80" font-size="24" font-weight="bold" font-style="normal" fill="#141414" font-family="'Liberation Sans', sans-serif" >H</text>
<text x="175.68" y="372.60" font-size="14" font-weight="bold" font-style="normal" fill="#141414" font-family="'Liberation Sans', sans-serif" >3</text>
<text x="182.82" y="364.75" font-size="24" font-weight="bold" font-style="normal" fill="#141414" font-family="'Liberation Sans', sans-serif" >C</text>
<text x="199.99" y="364.80" font-size="24" font-weight="bold" font-style="normal" fill="#141414" font-family="'Liberation Sans', sans-serif" >H</text>
<text x="216.80" y="372.50" font-size="14.3" font-weight="bold" font-style="normal" fill="#141414" font-family="'Liberation Sans', sans-serif" >2</text>
<text x="224.59" y="364.80" font-size="24" font-weight="bold" font-style="normal" fill="#141414" font-family="'Liberation Sans', sans-serif" >F</text>
<text x="244.96" y="364.60" font-size="23.3" font-weight="normal" font-style="normal" fill="#141414" font-family="'Liberation Sans', sans-serif" >(</text>
<text x="253.08" y="365.00" font-size="24" font-weight="normal" font-style="italic" fill="#141414" font-family="'Liberation Sans', sans-serif" >C</text>
<text x="270.16" y="372.60" font-size="13.7" font-weight="normal" font-style="italic" fill="#141414" font-family="'Liberation Sans', sans-serif" >s</text>
<text x="277.86" y="364.60" font-size="23.3" font-weight="normal" font-style="normal" fill="#141414" font-family="'Liberation Sans', sans-serif" >)</text>
<text x="465.38" y="364.50" font-size="20.4" font-weight="bold" font-style="normal" fill="#141414" font-family="'Liberation Sans', sans-serif" >(e)</text>
<text x="496.52" y="366.50" font-size="24" font-weight="bold" font-style="normal" fill="#141414" font-family="'Liberation Sans', sans-serif" >C</text>
<text x="513.29" y="366.50" font-size="24" font-weight="bold" font-style="normal" fill="#141414" font-family="'Liberation Sans', sans-serif" >H</text>
<text x="530.68" y="374.30" font-size="14" font-weight="bold" font-style="normal" fill="#141414" font-family="'Liberation Sans', sans-serif" >3</text>
<text x="537.82" y="366.50" font-size="24" font-weight="bold" font-style="normal" fill="#141414" font-family="'Liberation Sans', sans-serif" >O</text>
<text x="555.89" y="366.50" font-size="24" font-weight="bold" font-style="normal" fill="#141414" font-family="'Liberation Sans', sans-serif" >H</text>
<text x="579.36" y="366.30" font-size="23.3" font-weight="normal" font-style="normal" fill="#141414" font-family="'Liberation Sans', sans-serif" >(</text>
<text x="587.68" y="366.80" font-size="24" font-weight="normal" font-style="italic" fill="#141414" font-family="'Liberation Sans', sans-serif" >C</text>
<text x="604.16" y="374.00" font-size="13.7" font-weight="normal" font-style="italic" fill="#141414" font-family="'Liberation Sans', sans-serif" >s</text>
<text x="612.16" y="366.30" font-size="23.3" font-weight="normal" font-style="normal" fill="#141414" font-family="'Liberation Sans', sans-serif" >)</text>
<text x="141.47" y="64.10" font-size="12.6" font-weight="bold" font-style="normal" fill="#141414" font-family="'Liberation Sans', sans-serif" >rotation = "free"</text>
<text x="141.46" y="80.00" font-size="12.6" font-weight="bold" font-style="normal" fill="#141414" font-family="'Liberation Sans', sans-serif" >sites = 1</text>
<text x="141.61" y="98.00" font-size="12.9" font-weight="normal" font-style="normal" fill="#262626" font-family="'Liberation Sans', sans-serif" >Δν</text>
<text x="156.30" y="92.20" font-size="7.4" font-weight="bold" font-style="normal" fill="#141414" font-family="'Liberation Sans', sans-serif" >gas</text>
<text x="155.96" y="102.80" font-size="8.3" font-weight="bold" font-style="normal" fill="#141414" font-family="'Liberation Sans', sans-serif" >av.</text>
<text x="168.77" y="98.00" font-size="12.6" font-weight="bold" font-style="normal" fill="#141414" font-family="'Liberation Sans', sans-serif" >= 13 cm</text>
<text x="215.01" y="92.00" font-size="6.8" font-weight="bold" font-style="normal" fill="#141414" font-family="'Liberation Sans', sans-serif" >-1</text>
<text x="142.47" y="183.60" font-size="12.6" font-weight="bold" font-style="normal" fill="#141414" font-family="'Liberation Sans', sans-serif" >rotation = "free"</text>
<text x="142.46" y="199.50" font-size="12.6" font-weight="bold" font-style="normal" fill="#141414" font-family="'Liberation Sans', sans-serif" >sites = 1</text>
<text x="142.61" y="217.50" font-size="12.9" font-weight="normal" font-style="normal" fill="#262626" font-family="'Liberation Sans', sans-serif" >Δν</text>
<text x="157.30" y="211.70" font-size="7.4" font-weight="bold" font-style="normal" fill="#141414" font-family="'Liberation Sans', sans-serif" >gas</text>
<text x="156.96" y="222.30" font-size="8.3" font-weight="bold" font-style="normal" fill="#141414" font-family="'Liberation Sans', sans-serif" >av.</text>
<text x="169.77" y="217.50" font-size="12.6" font-weight="bold" font-style="normal" fill="#141414" font-family="'Liberation Sans', sans-serif" >= 2 cm</text>
<text x="209.00" y="211.50" font-size="6.8" font-weight="bold" font-style="normal" fill="#141414" font-family="'Liberation Sans', sans-serif" >-1</text>
<text x="387.77" y="64.90" font-size="12.6" font-weight="bold" font-style="normal" fill="#141414" font-family="'Liberation Sans', sans-serif" >rotation = no</text>
<text x="387.76" y="81.10" font-size="12.6" font-weight="bold" font-style="normal" fill="#141414" font-family="'Liberation Sans', sans-serif" >sites = 2</text>
<text x="387.91" y="98.90" font-size="12.9" font-weight="normal" font-style="normal" fill="#262626" font-family="'Liberation Sans', sans-serif" >Δν</text>
<text x="402.60" y="93.10" font-size="7.4" font-weight="bold" font-style="normal" fill="#141414" font-family="'Liberation Sans', sans-serif" >gas</text>
<text x="402.26" y="103.70" font-size="8.3" font-weight="bold" font-style="normal" fill="#141414" font-family="'Liberation Sans', sans-serif" >av.</text>
<text x="415.07" y="98.90" font-size="12.6" font-weight="bold" font-style="normal" fill="#141414" font-family="'Liberation Sans', sans-serif" >= 7 cm</text>
<text x="454.30" y="92.90" font-size="6.8" font-weight="bold" font-style="normal" fill="#141414" font-family="'Liberation Sans', sans-serif" >-1</text>
<text x="385.27" y="186.40" font-size="12.6" font-weight="bold" font-style="normal" fill="#141414" font-family="'Liberation Sans', sans-serif" >rotation = no</text>
<text x="385.26" y="202.30" font-size="12.6" font-weight="bold" font-style="normal" fill="#141414" font-family="'Liberation Sans', sans-serif" >sites = 1</text>
<text x="385.41" y="220.30" font-size="12.9" font-weight="normal" font-style="normal" fill="#262626" font-family="'Liberation Sans', sans-serif" >Δν</text>
<text x="400.10" y="214.50" font-size="7.4" font-weight="bold" font-style="normal" fill="#141414" font-family="'Liberation Sans', sans-serif" >gas</text>
<text x="399.76" y="225.10" font-size="8.3" font-weight="bold" font-style="normal" fill="#141414" font-family="'Liberation Sans', sans-serif" >av.</text>
<text x="412.57" y="220.30" font-size="12.6" font-weight="bold" font-style="normal" fill="#141414" font-family="'Liberation Sans', sans-serif" >= 1 cm</text>
<text x="451.80" y="214.30" font-size="6.8" font-weight="bold" font-style="normal" fill="#141414" font-family="'Liberation Sans', sans-serif" >-1</text>
<text x="570.07" y="64.60" font-size="12.6" font-weight="bold" font-style="normal" fill="#141414" font-family="'Liberation Sans', sans-serif" >rotation = "hindered"</text>
<text x="570.06" y="80.20" font-size="12.6" font-weight="bold" font-style="normal" fill="#141414" font-family="'Liberation Sans', sans-serif" >sites = 2</text>
<text x="570.21" y="97.70" font-size="12.9" font-weight="normal" font-style="normal" fill="#262626" font-family="'Liberation Sans', sans-serif" >Δν</text>
<text x="584.90" y="91.90" font-size="7.4" font-weight="bold" font-style="normal" fill="#141414" font-family="'Liberation Sans', sans-serif" >gas</text>
<text x="584.56" y="102.50" font-size="8.3" font-weight="bold" font-style="normal" fill="#141414" font-family="'Liberation Sans', sans-serif" >av.</text>
<text x="597.37" y="97.70" font-size="12.6" font-weight="bold" font-style="normal" fill="#141414" font-family="'Liberation Sans', sans-serif" >= 7 cm</text>
<text x="636.60" y="91.70" font-size="6.8" font-weight="bold" font-style="normal" fill="#141414" font-family="'Liberation Sans', sans-serif" >-1</text>
<text x="585.57" y="184.40" font-size="12.6" font-weight="bold" font-style="normal" fill="#141414" font-family="'Liberation Sans', sans-serif" >rotation = no ?</text>
<text x="585.56" y="200.30" font-size="12.6" font-weight="bold" font-style="normal" fill="#141414" font-family="'Liberation Sans', sans-serif" >sites = ?</text>
<text x="585.71" y="218.30" font-size="12.9" font-weight="normal" font-style="normal" fill="#262626" font-family="'Liberation Sans', sans-serif" >Δν</text>
<text x="600.40" y="212.50" font-size="7.4" font-weight="bold" font-style="normal" fill="#141414" font-family="'Liberation Sans', sans-serif" >gas</text>
<text x="600.06" y="223.10" font-size="8.3" font-weight="bold" font-style="normal" fill="#141414" font-family="'Liberation Sans', sans-serif" >av.</text>
<text x="612.87" y="218.30" font-size="12.6" font-weight="bold" font-style="normal" fill="#141414" font-family="'Liberation Sans', sans-serif" >= &lt;1 cm</text>
<text x="659.46" y="212.30" font-size="6.8" font-weight="bold" font-style="normal" fill="#141414" font-family="'Liberation Sans', sans-serif" >-1</text>
<text x="269.72" y="410.30" font-size="13.3" font-weight="bold" font-style="normal" fill="#141414" font-family="'Liberation Sans', sans-serif" >rotation = no</text>
<text x="269.73" y="426.20" font-size="13.3" font-weight="bold" font-style="normal" fill="#141414" font-family="'Liberation Sans', sans-serif" >sites = 2</text>
<text x="269.89" y="445.00" font-size="13.616666666666667" font-weight="normal" font-style="normal" fill="#262626" font-family="'Liberation Sans', sans-serif" >Δν</text>
<text x="285.80" y="438.88" font-size="7.4" font-weight="bold" font-style="normal" fill="#141414" font-family="'Liberation Sans', sans-serif" >gas</text>
<text x="285.46" y="450.07" font-size="8.3" font-weight="bold" font-style="normal" fill="#141414" font-family="'Liberation Sans', sans-serif" >av.</text>
<text x="299.24" y="445.00" font-size="13.3" font-weight="bold" font-style="normal" fill="#141414" font-family="'Liberation Sans', sans-serif" >= 4 cm</text>
<text x="340.65" y="438.67" font-size="7.177777777777778" font-weight="bold" font-style="normal" fill="#141414" font-family="'Liberation Sans', sans-serif" >-1</text>
<text x="269.82" y="534.00" font-size="13.3" font-weight="bold" font-style="normal" fill="#141414" font-family="'Liberation Sans', sans-serif" >rotation = no</text>
<text x="269.83" y="550.50" font-size="13.3" font-weight="bold" font-style="normal" fill="#141414" font-family="'Liberation Sans', sans-serif" >sites = 2</text>
<text x="269.99" y="568.60" font-size="13.616666666666667" font-weight="normal" font-style="normal" fill="#262626" font-family="'Liberation Sans', sans-serif" >Δν</text>
<text x="285.90" y="562.48" font-size="7.4" font-weight="bold" font-style="normal" fill="#141414" font-family="'Liberation Sans', sans-serif" >gas</text>
<text x="285.56" y="573.67" font-size="8.3" font-weight="bold" font-style="normal" fill="#141414" font-family="'Liberation Sans', sans-serif" >av.</text>
<text x="299.34" y="568.60" font-size="13.3" font-weight="bold" font-style="normal" fill="#141414" font-family="'Liberation Sans', sans-serif" >= 1 cm</text>
<text x="340.75" y="562.27" font-size="7.177777777777778" font-weight="bold" font-style="normal" fill="#141414" font-family="'Liberation Sans', sans-serif" >-1</text>
<text x="443.42" y="410.90" font-size="13.3" font-weight="bold" font-style="normal" fill="#141414" font-family="'Liberation Sans', sans-serif" >rotation = no</text>
<text x="443.43" y="427.70" font-size="13.3" font-weight="bold" font-style="normal" fill="#141414" font-family="'Liberation Sans', sans-serif" >sites = 1</text>
<text x="443.59" y="445.80" font-size="13.616666666666667" font-weight="normal" font-style="normal" fill="#262626" font-family="'Liberation Sans', sans-serif" >Δν</text>
<text x="459.50" y="439.68" font-size="7.4" font-weight="bold" font-style="normal" fill="#141414" font-family="'Liberation Sans', sans-serif" >gas</text>
<text x="459.16" y="450.87" font-size="8.3" font-weight="bold" font-style="normal" fill="#141414" font-family="'Liberation Sans', sans-serif" >av.</text>
<text x="472.94" y="445.80" font-size="13.3" font-weight="bold" font-style="normal" fill="#141414" font-family="'Liberation Sans', sans-serif" >= 4 cm</text>
<text x="514.35" y="439.47" font-size="7.177777777777778" font-weight="bold" font-style="normal" fill="#141414" font-family="'Liberation Sans', sans-serif" >-1</text>
<text x="435.02" y="533.00" font-size="13.3" font-weight="bold" font-style="normal" fill="#141414" font-family="'Liberation Sans', sans-serif" >rotation = no</text>
<text x="435.03" y="549.70" font-size="13.3" font-weight="bold" font-style="normal" fill="#141414" font-family="'Liberation Sans', sans-serif" >sites = 1</text>
<text x="435.19" y="568.00" font-size="13.616666666666667" font-weight="normal" font-style="normal" fill="#262626" font-family="'Liberation Sans', sans-serif" >Δν</text>
<text x="451.10" y="561.88" font-size="7.4" font-weight="bold" font-style="normal" fill="#141414" font-family="'Liberation Sans', sans-serif" >gas</text>
<text x="450.76" y="573.07" font-size="8.3" font-weight="bold" font-style="normal" fill="#141414" font-family="'Liberation Sans', sans-serif" >av.</text>
<text x="464.54" y="568.00" font-size="13.3" font-weight="bold" font-style="normal" fill="#141414" font-family="'Liberation Sans', sans-serif" >= 3 cm</text>
<text x="505.95" y="561.67" font-size="7.177777777777778" font-weight="bold" font-style="normal" fill="#141414" font-family="'Liberation Sans', sans-serif" >-1</text>
<text x="457.64" y="587.10" font-size="13.3" font-weight="bold" font-style="normal" fill="#141414" font-family="'Liberation Sans', sans-serif" >+ torsion</text>
<text x="457.53" y="603.40" font-size="13.3" font-weight="bold" font-style="normal" fill="#141414" font-family="'Liberation Sans', sans-serif" >splitting!</text>
<text transform="translate(19.15,47.52) rotate(-90)" font-size="14.8" font-weight="normal" font-style="normal" fill="#1e1e1e" font-family="'Liberation Sans', sans-serif" >cm</text>
<text transform="translate(12.00,27.68) rotate(-90)" font-size="8.6" font-weight="normal" font-style="normal" fill="#1e1e1e" font-family="'Liberation Sans', sans-serif" >-1</text>
<text transform="translate(16.45,395.66) rotate(-90)" font-size="15.6" font-weight="normal" font-style="normal" fill="#1e1e1e" font-family="'Liberation Sans', sans-serif" >cm</text>
<text transform="translate(8.90,374.99) rotate(-90)" font-size="8.8" font-weight="normal" font-style="normal" fill="#1e1e1e" font-family="'Liberation Sans', sans-serif" >-1</text>
<text transform="translate(20.00,147.53) rotate(-90)" font-size="15.6" font-weight="normal" font-style="normal" fill="#1a1aff" font-family="'Liberation Sans', sans-serif" >Argon MI-IR</text>
<text transform="translate(21.50,261.66) rotate(-90)" font-size="15.4" font-weight="normal" font-style="normal" fill="#ff1a1a" font-family="'Liberation Sans', sans-serif" >Neon MI-IR</text>
<text transform="translate(16.90,493.93) rotate(-90)" font-size="15.6" font-weight="normal" font-style="normal" fill="#1a1aff" font-family="'Liberation Sans', sans-serif" >Argon MI-IR</text>
<text transform="translate(18.75,608.77) rotate(-90)" font-size="15.5" font-weight="normal" font-style="normal" fill="#ff1a1a" font-family="'Liberation Sans', sans-serif" >Neon MI-IR</text>
<text transform="translate(16.25,335.94) rotate(-90)" font-size="15.3" font-weight="normal" font-style="italic" fill="#22c222" font-family="'Liberation Sans', sans-serif" >in vacuo</text>
<text transform="translate(35.45,323.78) rotate(-90)" font-size="15.7" font-weight="normal" font-style="normal" fill="#22c222" font-family="'Liberation Sans', sans-serif" >VCI</text>
<text transform="translate(13.25,683.25) rotate(-90)" font-size="15.5" font-weight="normal" font-style="italic" fill="#22c222" font-family="'Liberation Sans', sans-serif" >in vacuo</text>
<text transform="translate(32.65,670.78) rotate(-90)" font-size="15.8" font-weight="normal" font-style="normal" fill="#22c222" font-family="'Liberation Sans', sans-serif" >VCI</text>
<text transform="translate(58.40,339.09) rotate(-90) scale(1.3,0.95)" font-size="13.8" font-weight="normal" font-style="normal" fill="#22c222" font-family="'Liberation Serif', serif" >2</text>
<text transform="translate(63.40,330.53) rotate(-90)" font-size="7.2" font-weight="normal" font-style="normal" fill="#22c222" font-family="'Liberation Serif', serif" >12</text>
<path d="M55.0,309.4 L55.0,321.9" stroke="#22c222" stroke-width="1" fill="none"/>
<path d="M51.8,316.4 L55.0,321.9 L58.2,316.4 L55.0,318.4 Z" fill="#22c222"/>
<text transform="translate(58.40,309.11) rotate(-90)" font-size="13.8" font-weight="normal" font-style="normal" fill="#22c222" font-family="'Liberation Serif', serif" >1</text>
<text transform="translate(63.40,301.67) rotate(-90)" font-size="7.2" font-weight="normal" font-style="normal" fill="#22c222" font-family="'Liberation Serif', serif" >01</text>
<text transform="translate(100.30,338.21) rotate(-90)" font-size="13.8" font-weight="normal" font-style="normal" fill="#22c222" font-family="'Liberation Serif', serif" >1</text>
<text transform="translate(105.30,331.63) rotate(-90)" font-size="7.2" font-weight="normal" font-style="normal" fill="#22c222" font-family="'Liberation Serif', serif" >11</text>
<path d="M96.89999999999999,309.5 L96.89999999999999,322.5" stroke="#22c222" stroke-width="1" fill="none"/>
<path d="M93.69999999999999,317.0 L96.89999999999999,322.5 L100.1,317.0 L96.89999999999999,319.0 Z" fill="#22c222"/>
<text transform="translate(100.30,309.42) rotate(-90)" font-size="13.8" font-weight="normal" font-style="normal" fill="#22c222" font-family="'Liberation Serif', serif" >0</text>
<text transform="translate(105.30,302.37) rotate(-90)" font-size="7.2" font-weight="normal" font-style="normal" fill="#22c222" font-family="'Liberation Serif', serif" >00</text>
<text transform="translate(144.30,338.41) rotate(-90)" font-size="13.8" font-weight="normal" font-style="normal" fill="#22c222" font-family="'Liberation Serif', serif" >1</text>
<text transform="translate(149.30,331.63) rotate(-90)" font-size="7.2" font-weight="normal" font-style="normal" fill="#22c222" font-family="'Liberation Serif', serif" >10</text>
<path d="M140.9,310.0 L140.9,322.5" stroke="#22c222" stroke-width="1" fill="none"/>
<path d="M137.70000000000002,317.0 L140.9,322.5 L144.1,317.0 L140.9,319.0 Z" fill="#22c222"/>
<text transform="translate(144.30,310.11) rotate(-90)" font-size="13.8" font-weight="normal" font-style="normal" fill="#22c222" font-family="'Liberation Serif', serif" >1</text>
<text transform="translate(149.30,302.37) rotate(-90)" font-size="7.2" font-weight="normal" font-style="normal" fill="#22c222" font-family="'Liberation Serif', serif" >01</text>
<text transform="translate(185.60,334.60) rotate(-90)" font-size="14.2" fill="#22c222" font-family="'Liberation Sans', sans-serif">ν<tspan font-size="8.6" dy="3.12">2</tspan><tspan dy="-3.12"> (</tspan><tspan font-style="normal">A</tspan><tspan font-size="8.6" dy="3.12" font-style="normal">1</tspan><tspan dy="-3.12">)</tspan></text>
<text transform="translate(322.60,336.60) rotate(-90)" font-size="14.2" fill="#22c222" font-family="'Liberation Sans', sans-serif">ν<tspan font-size="8.6" dy="3.12">3</tspan><tspan dy="-3.12"> (</tspan><tspan font-style="normal">A</tspan><tspan font-size="8.6" dy="3.12" font-style="italic">1u</tspan><tspan dy="-3.12">)</tspan></text>
<text transform="translate(537.60,334.00) rotate(-90)" font-size="14.2" fill="#22c222" font-family="'Liberation Sans', sans-serif">ν<tspan font-size="8.6" dy="3.12">4</tspan><tspan dy="-3.12"> (</tspan><tspan font-style="italic">F</tspan><tspan font-size="8.6" dy="3.12" font-style="normal">2</tspan><tspan dy="-3.12">)</tspan></text>
<text transform="translate(83.60,680.30) rotate(-90)" font-size="12.6" fill="#22c222" font-family="'Liberation Sans', sans-serif">ν<tspan font-size="8.6" dy="2.77">12</tspan><tspan dy="-2.77"> (</tspan><tspan font-style="italic">A</tspan><tspan font-style="italic">″</tspan>)</text>
<text transform="translate(102.6,680.3) rotate(-90)" font-size="12.6" fill="#22c222" font-family="'Liberation Sans', sans-serif">2ν<tspan font-size="8.2" dy="2.8">4</tspan><tspan dy="-2.8"> (</tspan><tspan font-style="italic">A′</tspan>)</text>
<text transform="translate(120.00,677.70) rotate(-90)" font-size="12.6" fill="#22c222" font-family="'Liberation Sans', sans-serif">ν<tspan font-size="8.6" dy="2.77">1</tspan><tspan dy="-2.77"> (</tspan><tspan font-style="italic">A</tspan><tspan font-style="italic">′</tspan>)</text>
<text transform="translate(164.00,680.90) rotate(-90)" font-size="12.6" fill="#22c222" font-family="'Liberation Sans', sans-serif">ν<tspan font-size="8.6" dy="2.77">13</tspan><tspan dy="-2.77"> (</tspan><tspan font-style="italic">A</tspan><tspan font-style="italic">″</tspan>)</text>
<text transform="translate(216.10,675.90) rotate(-90)" font-size="12.6" fill="#22c222" font-family="'Liberation Sans', sans-serif">ν<tspan font-size="8.6" dy="2.77">2</tspan><tspan dy="-2.77"> (</tspan><tspan font-style="italic">A</tspan><tspan font-style="italic">′</tspan>)</text>
<text transform="translate(273.40,677.40) rotate(-90)" font-size="12.6" fill="#22c222" font-family="'Liberation Sans', sans-serif">ν<tspan font-size="8.6" dy="2.77">3</tspan><tspan dy="-2.77"> (</tspan><tspan font-style="italic">A</tspan><tspan font-style="italic">′</tspan>)</text>
<text transform="translate(433.60,678.10) rotate(-90)" font-size="12.6" fill="#22c222" font-family="'Liberation Sans', sans-serif">ν<tspan font-size="8.6" dy="2.77">2</tspan><tspan dy="-2.77"> (</tspan><tspan font-style="italic">A</tspan><tspan font-style="italic">′</tspan>)</text>
<line x1="535.3" y1="637.0" x2="512.7" y2="664.0" stroke="#7ede7e" stroke-width="0.8" />
<line x1="598.4" y1="637.0" x2="512.7" y2="664.0" stroke="#7ede7e" stroke-width="0.8" />
<line x1="666.8" y1="637.0" x2="512.7" y2="664.0" stroke="#7ede7e" stroke-width="0.8" />
<line x1="535.3" y1="637.0" x2="560.6" y2="663.7" stroke="#7ede7e" stroke-width="0.8" />
<line x1="598.4" y1="637.0" x2="560.6" y2="663.7" stroke="#7ede7e" stroke-width="0.8" />
<line x1="620.5" y1="637.0" x2="560.6" y2="663.7" stroke="#7ede7e" stroke-width="0.8" />
<line x1="620.5" y1="637.0" x2="620.5" y2="663.9" stroke="#7ede7e" stroke-width="0.8" />
<line x1="637.5" y1="637.0" x2="620.5" y2="663.9" stroke="#7ede7e" stroke-width="0.8" />
<line x1="535.3" y1="637.0" x2="669.3" y2="663.8" stroke="#7ede7e" stroke-width="0.8" />
<line x1="620.5" y1="637.0" x2="669.3" y2="663.8" stroke="#7ede7e" stroke-width="0.8" />
<line x1="637.5" y1="637.0" x2="669.3" y2="663.8" stroke="#7ede7e" stroke-width="0.8" />
<text x="502.6" y="678.4" font-size="12.6" fill="#22c222" font-family="'Liberation Sans', sans-serif">ν<tspan font-size="8.2" dy="3">9</tspan><tspan dy="-3"> (</tspan><tspan font-style="italic">A″</tspan>)</text>
<text x="553.8" y="678.4" font-size="12.6" fill="#22c222" font-family="'Liberation Sans', sans-serif">2ν<tspan font-size="8.2" dy="3">4</tspan><tspan dy="-3"> (</tspan><tspan font-style="italic">A′</tspan>)</text>
<text x="608.2" y="678.4" font-size="12.6" fill="#22c222" font-family="'Liberation Sans', sans-serif">2ν<tspan font-size="8.2" dy="3">10</tspan><tspan dy="-3"> (</tspan><tspan font-style="italic">A′</tspan>)</text>
<text x="667.0" y="678.4" font-size="12.6" fill="#22c222" font-family="'Liberation Sans', sans-serif">2ν<tspan font-size="8.2" dy="3">5</tspan><tspan dy="-3"> (</tspan><tspan font-style="italic">A′</tspan>)</text>
</svg></body></html>
